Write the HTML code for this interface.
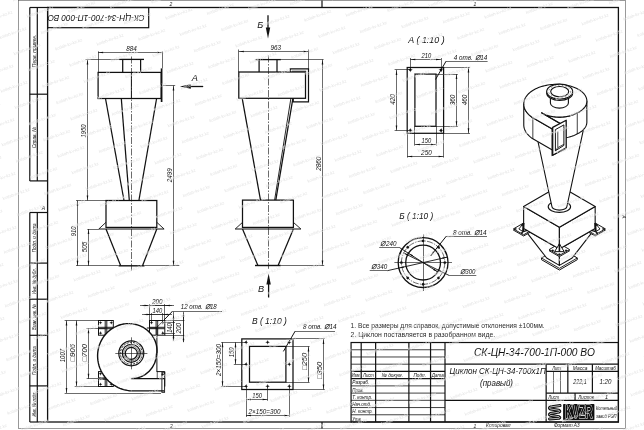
<!DOCTYPE html>
<html lang="ru"><head><meta charset="utf-8"><title>СК-ЦН-34-700-1П-000 ВО</title>
<style>
html,body{margin:0;padding:0;background:#fff;}
body{width:644px;height:430px;overflow:hidden;}
svg{display:block;will-change:transform;font-family:'Liberation Sans', sans-serif;}
</style></head><body>
<svg width="644" height="430" viewBox="0 0 644 430" stroke="#111" fill="none" font-family='"Liberation Sans", sans-serif'>
<rect x="0" y="0" width="644" height="430" fill="#fff" stroke="none"/>
<g>
<rect x="18.60" y="0.60" width="607.10" height="427.90" stroke-width="0.6" fill="none" stroke="#555"/>
<rect x="47.60" y="7.50" width="570.80" height="414.50" stroke-width="1.3" fill="none" />
<line x1="29.80" y1="7.50" x2="29.80" y2="180.90" stroke-width="1.2" />
<line x1="29.80" y1="212.50" x2="29.80" y2="422.00" stroke-width="1.2" />
<line x1="37.30" y1="7.50" x2="37.30" y2="180.90" stroke-width="1.2" />
<line x1="37.30" y1="212.50" x2="37.30" y2="422.00" stroke-width="1.2" />
<line x1="29.80" y1="7.50" x2="47.60" y2="7.50" stroke-width="1.2" />
<line x1="29.80" y1="94.20" x2="47.60" y2="94.20" stroke-width="1.2" />
<line x1="29.80" y1="180.90" x2="47.60" y2="180.90" stroke-width="1.2" />
<line x1="29.80" y1="212.50" x2="47.60" y2="212.50" stroke-width="1.2" />
<line x1="29.80" y1="263.10" x2="47.60" y2="263.10" stroke-width="1.2" />
<line x1="29.80" y1="299.20" x2="47.60" y2="299.20" stroke-width="1.2" />
<line x1="29.80" y1="335.30" x2="47.60" y2="335.30" stroke-width="1.2" />
<line x1="29.80" y1="385.90" x2="47.60" y2="385.90" stroke-width="1.2" />
<line x1="29.80" y1="422.00" x2="47.60" y2="422.00" stroke-width="1.2" />
<text x="35.90" y="50.80" font-size="5.6" font-style="italic" text-anchor="middle" fill="#111" stroke="none" textLength="32.7" lengthAdjust="spacingAndGlyphs" transform="rotate(-90 35.90 50.80)" >Перв. примен.</text>
<text x="35.90" y="137.50" font-size="5.6" font-style="italic" text-anchor="middle" fill="#111" stroke="none" textLength="21.5" lengthAdjust="spacingAndGlyphs" transform="rotate(-90 35.90 137.50)" >Справ. №</text>
<text x="35.90" y="237.80" font-size="5.6" font-style="italic" text-anchor="middle" fill="#111" stroke="none" textLength="29.0" lengthAdjust="spacingAndGlyphs" transform="rotate(-90 35.90 237.80)" >Подп. и дата</text>
<text x="35.90" y="281.10" font-size="5.6" font-style="italic" text-anchor="middle" fill="#111" stroke="none" textLength="26.0" lengthAdjust="spacingAndGlyphs" transform="rotate(-90 35.90 281.10)" >Инв. № дубл.</text>
<text x="35.90" y="317.20" font-size="5.6" font-style="italic" text-anchor="middle" fill="#111" stroke="none" textLength="26.0" lengthAdjust="spacingAndGlyphs" transform="rotate(-90 35.90 317.20)" >Взам. инв. №</text>
<text x="35.90" y="360.60" font-size="5.6" font-style="italic" text-anchor="middle" fill="#111" stroke="none" textLength="29.0" lengthAdjust="spacingAndGlyphs" transform="rotate(-90 35.90 360.60)" >Подп. и дата</text>
<text x="35.90" y="404.00" font-size="5.6" font-style="italic" text-anchor="middle" fill="#111" stroke="none" textLength="25.0" lengthAdjust="spacingAndGlyphs" transform="rotate(-90 35.90 404.00)" >Инв. № подл.</text>
<rect x="47.60" y="7.50" width="101.10" height="20.20" stroke-width="1.2" fill="none" />
<text x="96.10" y="14.80" font-size="9.4" font-style="italic" text-anchor="middle" fill="#111" stroke="none" textLength="97.0" lengthAdjust="spacingAndGlyphs" transform="rotate(180 96.10 14.80)" >СК-ЦН-34-700-1П-000 ВО</text>
<line x1="322.00" y1="0.60" x2="322.00" y2="7.50" stroke-width="1.2" />
<line x1="322.00" y1="422.00" x2="322.00" y2="428.50" stroke-width="1.2" />
<text x="171.00" y="5.60" font-size="5" font-style="italic" text-anchor="middle" fill="#111" stroke="none" >2</text>
<text x="475.00" y="5.60" font-size="5" font-style="italic" text-anchor="middle" fill="#111" stroke="none" >1</text>
<text x="171.50" y="427.60" font-size="5" font-style="italic" text-anchor="middle" fill="#111" stroke="none" >2</text>
<text x="475.00" y="427.60" font-size="5" font-style="italic" text-anchor="middle" fill="#111" stroke="none" >1</text>
<text x="43.50" y="209.60" font-size="5" font-style="italic" text-anchor="middle" fill="#111" stroke="none" >A</text>
<text x="622.00" y="217.00" font-size="5" font-style="italic" text-anchor="middle" fill="#111" stroke="none" transform="rotate(90 622.00 217.00)" >A</text>
<line x1="131.50" y1="56.50" x2="131.50" y2="270.80" stroke-width="0.62" stroke-dasharray="7 1.5 1.5 1.5"/>
<line x1="119.20" y1="59.40" x2="144.00" y2="59.40" stroke-width="1.3" />
<line x1="122.70" y1="59.40" x2="122.70" y2="72.40" stroke-width="1.25" />
<line x1="140.60" y1="59.40" x2="140.60" y2="72.40" stroke-width="1.25" />
<rect x="98.10" y="72.40" width="63.10" height="26.10" stroke-width="1.25" fill="none" />
<line x1="131.40" y1="72.40" x2="131.40" y2="98.50" stroke-width="0.9" />
<line x1="161.60" y1="68.40" x2="161.60" y2="102.00" stroke-width="1.7" />
<line x1="105.50" y1="98.50" x2="124.00" y2="200.50" stroke-width="1.25" />
<line x1="156.60" y1="98.50" x2="138.90" y2="200.50" stroke-width="1.25" />
<line x1="121.30" y1="98.50" x2="129.30" y2="200.50" stroke-width="1.25" />
<rect x="106.00" y="200.50" width="50.80" height="26.90" stroke-width="1.25" fill="none" />
<line x1="98.80" y1="229.00" x2="164.10" y2="229.00" stroke-width="1.2" />
<line x1="106.00" y1="222.30" x2="98.80" y2="229.00" stroke-width="0.9" />
<line x1="156.80" y1="222.30" x2="164.10" y2="229.00" stroke-width="0.9" />
<line x1="106.00" y1="229.00" x2="120.70" y2="265.80" stroke-width="1.25" />
<line x1="156.80" y1="229.00" x2="142.50" y2="265.80" stroke-width="1.25" />
<line x1="118.60" y1="265.80" x2="144.50" y2="265.80" stroke-width="1.4" />
<line x1="98.50" y1="72.40" x2="98.50" y2="51.30" stroke-width="0.62" />
<line x1="162.50" y1="68.40" x2="162.50" y2="51.30" stroke-width="0.62" />
<line x1="98.10" y1="52.50" x2="162.40" y2="52.50" stroke-width="0.62" />
<polygon points="98.10,52.50 103.10,51.70 103.10,53.30" fill="#111" stroke="none"/>
<polygon points="162.40,52.50 157.40,53.30 157.40,51.70" fill="#111" stroke="none"/>
<text x="131.50" y="50.90" font-size="7" font-style="italic" text-anchor="middle" fill="#111" stroke="none" textLength="10.6" lengthAdjust="spacingAndGlyphs" >884</text>
<line x1="119.20" y1="59.50" x2="85.50" y2="59.50" stroke-width="0.62" />
<line x1="106.00" y1="200.50" x2="76.00" y2="200.50" stroke-width="0.62" />
<line x1="87.50" y1="59.40" x2="87.50" y2="200.50" stroke-width="0.62" />
<polygon points="87.50,59.40 88.30,64.40 86.70,64.40" fill="#111" stroke="none"/>
<polygon points="87.50,200.50 86.70,195.50 88.30,195.50" fill="#111" stroke="none"/>
<text x="85.90" y="131.00" font-size="7" font-style="italic" text-anchor="middle" fill="#111" stroke="none" textLength="13.2" lengthAdjust="spacingAndGlyphs" transform="rotate(-90 85.90 131.00)" >1950</text>
<line x1="77.50" y1="200.50" x2="77.50" y2="265.80" stroke-width="0.62" />
<polygon points="77.50,200.50 78.30,205.50 76.70,205.50" fill="#111" stroke="none"/>
<polygon points="77.50,265.80 76.70,260.80 78.30,260.80" fill="#111" stroke="none"/>
<text x="75.90" y="231.40" font-size="7" font-style="italic" text-anchor="middle" fill="#111" stroke="none" textLength="9.7" lengthAdjust="spacingAndGlyphs" transform="rotate(-90 75.90 231.40)" >910</text>
<line x1="98.80" y1="229.50" x2="87.30" y2="229.50" stroke-width="0.62" />
<line x1="118.60" y1="265.50" x2="76.00" y2="265.50" stroke-width="0.62" />
<line x1="88.50" y1="229.00" x2="88.50" y2="265.80" stroke-width="0.62" />
<polygon points="88.50,229.00 89.30,234.00 87.70,234.00" fill="#111" stroke="none"/>
<polygon points="88.50,265.80 87.70,260.80 89.30,260.80" fill="#111" stroke="none"/>
<text x="86.90" y="247.00" font-size="7" font-style="italic" text-anchor="middle" fill="#111" stroke="none" textLength="10.6" lengthAdjust="spacingAndGlyphs" transform="rotate(-90 86.90 247.00)" >505</text>
<line x1="162.40" y1="85.50" x2="175.20" y2="85.50" stroke-width="0.62" />
<line x1="144.50" y1="265.50" x2="179.30" y2="265.50" stroke-width="0.62" />
<line x1="173.50" y1="85.60" x2="173.50" y2="265.80" stroke-width="0.62" />
<polygon points="173.50,85.60 174.30,90.60 172.70,90.60" fill="#111" stroke="none"/>
<polygon points="173.50,265.80 172.70,260.80 174.30,260.80" fill="#111" stroke="none"/>
<text x="171.90" y="175.20" font-size="7" font-style="italic" text-anchor="middle" fill="#111" stroke="none" textLength="14.2" lengthAdjust="spacingAndGlyphs" transform="rotate(-90 171.90 175.20)" >2499</text>
<line x1="185.00" y1="86.50" x2="203.20" y2="86.50" stroke-width="1.3" />
<polygon points="179.80,86.50 190.80,84.30 190.80,88.70" fill="#111" stroke="none"/>
<text x="194.90" y="81.20" font-size="9.2" font-style="italic" text-anchor="middle" fill="#111" stroke="none" >А</text>
<line x1="268.50" y1="55.50" x2="268.50" y2="268.80" stroke-width="0.62" stroke-dasharray="7 1.5 1.5 1.5"/>
<line x1="255.60" y1="59.60" x2="280.90" y2="59.60" stroke-width="1.3" />
<line x1="259.10" y1="59.60" x2="259.10" y2="72.00" stroke-width="1.25" />
<line x1="277.00" y1="59.60" x2="277.00" y2="72.00" stroke-width="1.25" />
<rect x="238.80" y="72.00" width="66.70" height="26.30" stroke-width="1.25" fill="none" />
<polyline points="290.30,72.00 290.30,68.90 308.50,68.90 308.50,101.80 293.20,101.80 293.20,98.30" stroke-width="1.2" fill="none" />
<polyline points="291.80,71.20 306.20,71.20" stroke-width="0.8" fill="none" />
<line x1="242.20" y1="98.30" x2="260.50" y2="200.10" stroke-width="1.25" />
<line x1="292.90" y1="98.30" x2="275.80" y2="200.10" stroke-width="1.25" />
<line x1="290.90" y1="98.30" x2="274.60" y2="200.10" stroke-width="0.9" />
<rect x="242.50" y="200.10" width="50.90" height="27.30" stroke-width="1.25" fill="none" />
<line x1="235.20" y1="229.00" x2="300.90" y2="229.00" stroke-width="1.2" />
<line x1="242.50" y1="222.40" x2="235.20" y2="229.00" stroke-width="0.9" />
<line x1="293.40" y1="222.40" x2="300.90" y2="229.00" stroke-width="0.9" />
<line x1="242.50" y1="229.00" x2="257.90" y2="265.50" stroke-width="1.25" />
<line x1="293.40" y1="229.00" x2="278.10" y2="265.50" stroke-width="1.25" />
<line x1="255.00" y1="265.50" x2="280.70" y2="265.50" stroke-width="1.4" />
<line x1="238.50" y1="72.00" x2="238.50" y2="49.50" stroke-width="0.62" />
<line x1="308.50" y1="68.90" x2="308.50" y2="49.50" stroke-width="0.62" />
<line x1="238.80" y1="51.50" x2="308.50" y2="51.50" stroke-width="0.62" />
<polygon points="238.80,51.50 243.80,50.70 243.80,52.30" fill="#111" stroke="none"/>
<polygon points="308.50,51.50 303.50,52.30 303.50,50.70" fill="#111" stroke="none"/>
<text x="275.80" y="49.90" font-size="7" font-style="italic" text-anchor="middle" fill="#111" stroke="none" textLength="10.6" lengthAdjust="spacingAndGlyphs" >963</text>
<line x1="280.90" y1="59.50" x2="323.60" y2="59.50" stroke-width="0.62" />
<line x1="280.70" y1="265.50" x2="324.20" y2="265.50" stroke-width="0.62" />
<line x1="322.50" y1="59.60" x2="322.50" y2="265.50" stroke-width="0.62" />
<polygon points="322.50,59.60 323.30,64.60 321.70,64.60" fill="#111" stroke="none"/>
<polygon points="322.50,265.50 321.70,260.50 323.30,260.50" fill="#111" stroke="none"/>
<text x="320.90" y="163.70" font-size="7" font-style="italic" text-anchor="middle" fill="#111" stroke="none" textLength="14.2" lengthAdjust="spacingAndGlyphs" transform="rotate(-90 320.90 163.70)" >2860</text>
<line x1="268.00" y1="15.20" x2="268.00" y2="33.00" stroke-width="1.3" />
<polygon points="268.00,38.40 265.80,27.40 270.20,27.40" fill="#111" stroke="none"/>
<text x="260.30" y="28.40" font-size="9.2" font-style="italic" text-anchor="middle" fill="#111" stroke="none" >Б</text>
<line x1="268.60" y1="279.00" x2="268.60" y2="297.50" stroke-width="1.3" />
<polygon points="268.60,273.60 270.80,284.60 266.40,284.60" fill="#111" stroke="none"/>
<text x="261.10" y="291.50" font-size="9.2" font-style="italic" text-anchor="middle" fill="#111" stroke="none" >В</text>
<text x="426.40" y="42.80" font-size="8.6" font-style="italic" text-anchor="middle" fill="#111" stroke="none" textLength="36.5" lengthAdjust="spacingAndGlyphs" >А ( 1:10 )</text>
<rect x="407.20" y="67.50" width="36.40" height="65.80" stroke-width="1.25" fill="none" />
<rect x="414.90" y="74.10" width="21.10" height="52.20" stroke-width="1.25" fill="none" />
<circle cx="410.30" cy="69.90" r="1.15" stroke-width="0.3" fill="#111" />
<line x1="408.10" y1="69.50" x2="412.50" y2="69.50" stroke-width="0.4" />
<line x1="410.50" y1="67.70" x2="410.50" y2="72.10" stroke-width="0.4" />
<circle cx="410.30" cy="130.50" r="1.15" stroke-width="0.3" fill="#111" />
<line x1="408.10" y1="130.50" x2="412.50" y2="130.50" stroke-width="0.4" />
<line x1="410.50" y1="128.30" x2="410.50" y2="132.70" stroke-width="0.4" />
<circle cx="441.00" cy="69.90" r="1.15" stroke-width="0.3" fill="#111" />
<line x1="438.80" y1="69.50" x2="443.20" y2="69.50" stroke-width="0.4" />
<line x1="441.50" y1="67.70" x2="441.50" y2="72.10" stroke-width="0.4" />
<circle cx="441.00" cy="130.50" r="1.15" stroke-width="0.3" fill="#111" />
<line x1="438.80" y1="130.50" x2="443.20" y2="130.50" stroke-width="0.4" />
<line x1="441.50" y1="128.30" x2="441.50" y2="132.70" stroke-width="0.4" />
<line x1="410.50" y1="69.90" x2="410.50" y2="58.00" stroke-width="0.62" />
<line x1="441.50" y1="69.90" x2="441.50" y2="58.00" stroke-width="0.62" />
<line x1="410.30" y1="59.50" x2="441.00" y2="59.50" stroke-width="0.62" />
<polygon points="410.30,59.50 415.30,58.70 415.30,60.30" fill="#111" stroke="none"/>
<polygon points="441.00,59.50 436.00,60.30 436.00,58.70" fill="#111" stroke="none"/>
<text x="426.40" y="57.90" font-size="7" font-style="italic" text-anchor="middle" fill="#111" stroke="none" textLength="9.7" lengthAdjust="spacingAndGlyphs" >210</text>
<line x1="435.50" y1="79.50" x2="445.90" y2="61.50" stroke-width="1.0" />
<line x1="445.50" y1="61.50" x2="487.60" y2="61.50" stroke-width="0.62" />
<text x="453.70" y="60.30" font-size="6.8" font-style="italic" text-anchor="start" fill="#111" stroke="none" textLength="33.5" lengthAdjust="spacingAndGlyphs" >4 отв. <tspan font-size="9.7">⌀</tspan>14</text>
<line x1="410.30" y1="69.50" x2="394.60" y2="69.50" stroke-width="0.62" />
<line x1="410.30" y1="130.50" x2="394.60" y2="130.50" stroke-width="0.62" />
<line x1="396.50" y1="69.90" x2="396.50" y2="130.50" stroke-width="0.62" />
<polygon points="396.50,69.90 397.30,74.90 395.70,74.90" fill="#111" stroke="none"/>
<polygon points="396.50,130.50 395.70,125.50 397.30,125.50" fill="#111" stroke="none"/>
<text x="394.90" y="99.50" font-size="7" font-style="italic" text-anchor="middle" fill="#111" stroke="none" textLength="10.6" lengthAdjust="spacingAndGlyphs" transform="rotate(-90 394.90 99.50)" >420</text>
<line x1="436.00" y1="74.50" x2="457.80" y2="74.50" stroke-width="0.62" />
<line x1="436.00" y1="126.50" x2="457.80" y2="126.50" stroke-width="0.62" />
<line x1="456.50" y1="74.10" x2="456.50" y2="126.30" stroke-width="0.62" />
<polygon points="456.50,74.10 457.30,79.10 455.70,79.10" fill="#111" stroke="none"/>
<polygon points="456.50,126.30 455.70,121.30 457.30,121.30" fill="#111" stroke="none"/>
<text x="454.90" y="100.00" font-size="7" font-style="italic" text-anchor="middle" fill="#111" stroke="none" textLength="10.6" lengthAdjust="spacingAndGlyphs" transform="rotate(-90 454.90 100.00)" >360</text>
<line x1="443.60" y1="67.50" x2="470.00" y2="67.50" stroke-width="0.62" />
<line x1="443.60" y1="133.50" x2="470.00" y2="133.50" stroke-width="0.62" />
<line x1="468.50" y1="67.50" x2="468.50" y2="133.30" stroke-width="0.62" />
<polygon points="468.50,67.50 469.30,72.50 467.70,72.50" fill="#111" stroke="none"/>
<polygon points="468.50,133.30 467.70,128.30 469.30,128.30" fill="#111" stroke="none"/>
<text x="466.90" y="100.00" font-size="7" font-style="italic" text-anchor="middle" fill="#111" stroke="none" textLength="10.6" lengthAdjust="spacingAndGlyphs" transform="rotate(-90 466.90 100.00)" >460</text>
<line x1="414.50" y1="126.30" x2="414.50" y2="145.60" stroke-width="0.62" />
<line x1="436.50" y1="126.30" x2="436.50" y2="145.60" stroke-width="0.62" />
<line x1="414.90" y1="144.50" x2="436.00" y2="144.50" stroke-width="0.62" />
<polygon points="414.90,144.50 419.90,143.70 419.90,145.30" fill="#111" stroke="none"/>
<polygon points="436.00,144.50 431.00,145.30 431.00,143.70" fill="#111" stroke="none"/>
<text x="426.40" y="142.90" font-size="7" font-style="italic" text-anchor="middle" fill="#111" stroke="none" textLength="9.7" lengthAdjust="spacingAndGlyphs" >150</text>
<line x1="407.50" y1="133.30" x2="407.50" y2="157.60" stroke-width="0.62" />
<line x1="443.50" y1="133.30" x2="443.50" y2="157.60" stroke-width="0.62" />
<line x1="407.20" y1="156.50" x2="443.60" y2="156.50" stroke-width="0.62" />
<polygon points="407.20,156.50 412.20,155.70 412.20,157.30" fill="#111" stroke="none"/>
<polygon points="443.60,156.50 438.60,157.30 438.60,155.70" fill="#111" stroke="none"/>
<text x="426.40" y="154.90" font-size="7" font-style="italic" text-anchor="middle" fill="#111" stroke="none" textLength="10.6" lengthAdjust="spacingAndGlyphs" >250</text>
<text x="416.30" y="219.20" font-size="8.6" font-style="italic" text-anchor="middle" fill="#111" stroke="none" textLength="34.0" lengthAdjust="spacingAndGlyphs" >Б ( 1:10 )</text>
<circle cx="423.10" cy="262.60" r="24.90" stroke-width="1.3" fill="none" />
<circle cx="423.10" cy="262.60" r="17.40" stroke-width="1.3" fill="none" />
<circle cx="423.10" cy="262.60" r="21.70" stroke-width="0.62" fill="none" stroke-dasharray="6 1.2 1.2 1.2"/>
<line x1="394.40" y1="262.50" x2="452.00" y2="262.50" stroke-width="0.62" />
<line x1="423.50" y1="234.30" x2="423.50" y2="291.00" stroke-width="0.62" />
<circle cx="423.10" cy="240.90" r="1.20" stroke-width="0.3" fill="#111" />
<circle cx="407.76" cy="247.26" r="1.20" stroke-width="0.3" fill="#111" />
<circle cx="401.40" cy="262.60" r="1.20" stroke-width="0.3" fill="#111" />
<circle cx="407.76" cy="277.94" r="1.20" stroke-width="0.3" fill="#111" />
<circle cx="423.10" cy="284.30" r="1.20" stroke-width="0.3" fill="#111" />
<circle cx="438.44" cy="277.94" r="1.20" stroke-width="0.3" fill="#111" />
<circle cx="444.80" cy="262.60" r="1.20" stroke-width="0.3" fill="#111" />
<circle cx="438.44" cy="247.26" r="1.20" stroke-width="0.3" fill="#111" />
<line x1="379.20" y1="247.50" x2="399.40" y2="247.50" stroke-width="0.62" />
<line x1="399.40" y1="247.50" x2="437.77" y2="271.95" stroke-width="0.9" />
<polygon points="437.77,271.95 433.13,269.94 433.99,268.59" fill="#111" stroke="none"/>
<polygon points="408.43,253.25 413.07,255.26 412.21,256.61" fill="#111" stroke="none"/>
<text x="380.40" y="245.70" font-size="6.8" font-style="italic" text-anchor="start" fill="#111" stroke="none" textLength="16.0" lengthAdjust="spacingAndGlyphs" ><tspan font-size="9.7">⌀</tspan>240</text>
<line x1="369.70" y1="270.50" x2="387.30" y2="270.50" stroke-width="0.62" />
<line x1="387.30" y1="270.70" x2="447.39" y2="257.11" stroke-width="0.9" />
<polygon points="447.39,257.11 442.69,258.99 442.33,257.43" fill="#111" stroke="none"/>
<polygon points="398.81,268.09 403.51,266.21 403.87,267.77" fill="#111" stroke="none"/>
<text x="371.20" y="268.90" font-size="6.8" font-style="italic" text-anchor="start" fill="#111" stroke="none" textLength="16.0" lengthAdjust="spacingAndGlyphs" ><tspan font-size="9.7">⌀</tspan>340</text>
<line x1="476.30" y1="275.50" x2="449.00" y2="275.50" stroke-width="0.62" />
<line x1="449.00" y1="275.40" x2="403.65" y2="252.99" stroke-width="0.9" />
<polygon points="403.65,252.99 408.48,254.48 407.77,255.92" fill="#111" stroke="none"/>
<polygon points="442.55,272.21 437.72,270.72 438.43,269.28" fill="#111" stroke="none"/>
<text x="460.00" y="273.60" font-size="6.8" font-style="italic" text-anchor="start" fill="#111" stroke="none" textLength="15.5" lengthAdjust="spacingAndGlyphs" ><tspan font-size="9.7">⌀</tspan>300</text>
<line x1="445.50" y1="236.50" x2="487.00" y2="236.50" stroke-width="0.62" />
<line x1="445.90" y1="236.70" x2="430.50" y2="256.00" stroke-width="1.0" />
<polygon points="430.50,256.00 432.99,251.59 434.24,252.59" fill="#111" stroke="none"/>
<text x="453.00" y="234.60" font-size="6.8" font-style="italic" text-anchor="start" fill="#111" stroke="none" textLength="33.4" lengthAdjust="spacingAndGlyphs" >8 отв. <tspan font-size="9.7">⌀</tspan>14</text>
<text x="269.40" y="324.20" font-size="8.6" font-style="italic" text-anchor="middle" fill="#111" stroke="none" textLength="35.0" lengthAdjust="spacingAndGlyphs" >В ( 1:10 )</text>
<rect x="241.80" y="338.90" width="51.20" height="50.60" stroke-width="1.25" fill="none" />
<rect x="249.50" y="346.40" width="36.40" height="35.80" stroke-width="1.25" fill="none" />
<circle cx="246.00" cy="342.30" r="0.95" stroke-width="0.3" fill="#111" />
<line x1="244.00" y1="342.50" x2="248.00" y2="342.50" stroke-width="0.4" />
<line x1="246.50" y1="340.30" x2="246.50" y2="344.30" stroke-width="0.4" />
<circle cx="246.00" cy="364.20" r="0.95" stroke-width="0.3" fill="#111" />
<line x1="244.00" y1="364.50" x2="248.00" y2="364.50" stroke-width="0.4" />
<line x1="246.50" y1="362.20" x2="246.50" y2="366.20" stroke-width="0.4" />
<circle cx="246.00" cy="386.20" r="0.95" stroke-width="0.3" fill="#111" />
<line x1="244.00" y1="386.50" x2="248.00" y2="386.50" stroke-width="0.4" />
<line x1="246.50" y1="384.20" x2="246.50" y2="388.20" stroke-width="0.4" />
<circle cx="267.60" cy="342.30" r="0.95" stroke-width="0.3" fill="#111" />
<line x1="265.60" y1="342.50" x2="269.60" y2="342.50" stroke-width="0.4" />
<line x1="267.50" y1="340.30" x2="267.50" y2="344.30" stroke-width="0.4" />
<circle cx="267.60" cy="386.20" r="0.95" stroke-width="0.3" fill="#111" />
<line x1="265.60" y1="386.50" x2="269.60" y2="386.50" stroke-width="0.4" />
<line x1="267.50" y1="384.20" x2="267.50" y2="388.20" stroke-width="0.4" />
<circle cx="289.30" cy="342.30" r="0.95" stroke-width="0.3" fill="#111" />
<line x1="287.30" y1="342.50" x2="291.30" y2="342.50" stroke-width="0.4" />
<line x1="289.50" y1="340.30" x2="289.50" y2="344.30" stroke-width="0.4" />
<circle cx="289.30" cy="364.20" r="0.95" stroke-width="0.3" fill="#111" />
<line x1="287.30" y1="364.50" x2="291.30" y2="364.50" stroke-width="0.4" />
<line x1="289.50" y1="362.20" x2="289.50" y2="366.20" stroke-width="0.4" />
<circle cx="289.30" cy="386.20" r="0.95" stroke-width="0.3" fill="#111" />
<line x1="287.30" y1="386.50" x2="291.30" y2="386.50" stroke-width="0.4" />
<line x1="289.50" y1="384.20" x2="289.50" y2="388.20" stroke-width="0.4" />
<line x1="283.40" y1="351.40" x2="295.00" y2="331.40" stroke-width="1.0" />
<line x1="294.60" y1="331.50" x2="335.00" y2="331.50" stroke-width="0.62" />
<text x="303.00" y="329.40" font-size="6.8" font-style="italic" text-anchor="start" fill="#111" stroke="none" textLength="33.4" lengthAdjust="spacingAndGlyphs" >8 отв. <tspan font-size="9.7">⌀</tspan>14</text>
<line x1="246.00" y1="342.50" x2="221.20" y2="342.50" stroke-width="0.62" />
<line x1="246.00" y1="386.50" x2="221.20" y2="386.50" stroke-width="0.62" />
<line x1="246.00" y1="364.50" x2="233.80" y2="364.50" stroke-width="0.62" />
<line x1="222.50" y1="342.30" x2="222.50" y2="386.20" stroke-width="0.62" />
<polygon points="222.50,342.30 223.30,347.30 221.70,347.30" fill="#111" stroke="none"/>
<polygon points="222.50,386.20 221.70,381.20 223.30,381.20" fill="#111" stroke="none"/>
<text x="220.90" y="360.00" font-size="7" font-style="italic" text-anchor="middle" fill="#111" stroke="none" textLength="31.9" lengthAdjust="spacingAndGlyphs" transform="rotate(-90 220.90 360.00)" >2×150=300</text>
<line x1="235.50" y1="342.30" x2="235.50" y2="364.20" stroke-width="0.62" />
<polygon points="235.50,342.30 236.30,347.30 234.70,347.30" fill="#111" stroke="none"/>
<polygon points="235.50,364.20 234.70,359.20 236.30,359.20" fill="#111" stroke="none"/>
<text x="233.90" y="352.40" font-size="7" font-style="italic" text-anchor="middle" fill="#111" stroke="none" textLength="9.7" lengthAdjust="spacingAndGlyphs" transform="rotate(-90 233.90 352.40)" >150</text>
<line x1="285.90" y1="346.50" x2="309.60" y2="346.50" stroke-width="0.62" />
<line x1="285.90" y1="382.50" x2="309.60" y2="382.50" stroke-width="0.62" />
<line x1="308.50" y1="346.40" x2="308.50" y2="382.20" stroke-width="0.62" />
<polygon points="308.50,346.40 309.30,351.40 307.70,351.40" fill="#111" stroke="none"/>
<polygon points="308.50,382.20 307.70,377.20 309.30,377.20" fill="#111" stroke="none"/>
<text x="306.90" y="361.50" font-size="7" font-style="italic" text-anchor="middle" fill="#111" stroke="none" textLength="17.2" lengthAdjust="spacingAndGlyphs" transform="rotate(-90 306.90 361.50)" >□250</text>
<line x1="293.00" y1="338.50" x2="324.80" y2="338.50" stroke-width="0.62" />
<line x1="293.00" y1="389.50" x2="324.80" y2="389.50" stroke-width="0.62" />
<line x1="323.50" y1="338.90" x2="323.50" y2="389.50" stroke-width="0.62" />
<polygon points="323.50,338.90 324.30,343.90 322.70,343.90" fill="#111" stroke="none"/>
<polygon points="323.50,389.50 322.70,384.50 324.30,384.50" fill="#111" stroke="none"/>
<text x="321.90" y="370.50" font-size="7" font-style="italic" text-anchor="middle" fill="#111" stroke="none" textLength="17.2" lengthAdjust="spacingAndGlyphs" transform="rotate(-90 321.90 370.50)" >□350</text>
<line x1="246.50" y1="386.20" x2="246.50" y2="417.00" stroke-width="0.62" />
<line x1="267.50" y1="386.20" x2="267.50" y2="400.80" stroke-width="0.62" />
<line x1="289.50" y1="386.20" x2="289.50" y2="417.00" stroke-width="0.62" />
<line x1="246.00" y1="399.50" x2="267.60" y2="399.50" stroke-width="0.62" />
<polygon points="246.00,399.50 251.00,398.70 251.00,400.30" fill="#111" stroke="none"/>
<polygon points="267.60,399.50 262.60,400.30 262.60,398.70" fill="#111" stroke="none"/>
<text x="257.10" y="397.90" font-size="7" font-style="italic" text-anchor="middle" fill="#111" stroke="none" textLength="9.7" lengthAdjust="spacingAndGlyphs" >150</text>
<line x1="246.00" y1="415.50" x2="289.30" y2="415.50" stroke-width="0.62" />
<polygon points="246.00,415.50 251.00,414.70 251.00,416.30" fill="#111" stroke="none"/>
<polygon points="289.30,415.50 284.30,416.30 284.30,414.70" fill="#111" stroke="none"/>
<text x="264.50" y="413.90" font-size="7" font-style="italic" text-anchor="middle" fill="#111" stroke="none" textLength="31.9" lengthAdjust="spacingAndGlyphs" >2×150=300</text>
<rect x="98.50" y="320.50" width="14.80" height="14.70" stroke-width="1.0" fill="none" />
<line x1="105.20" y1="320.50" x2="105.20" y2="335.20" stroke-width="0.95" />
<line x1="106.80" y1="320.50" x2="106.80" y2="335.20" stroke-width="0.95" />
<line x1="98.50" y1="327.30" x2="113.30" y2="327.30" stroke-width="0.95" />
<line x1="98.50" y1="328.70" x2="113.30" y2="328.70" stroke-width="0.95" />
<circle cx="100.50" cy="322.70" r="0.80" stroke-width="0.3" fill="#111" />
<line x1="98.90" y1="322.50" x2="102.10" y2="322.50" stroke-width="0.4" />
<line x1="100.50" y1="321.10" x2="100.50" y2="324.30" stroke-width="0.4" />
<circle cx="111.30" cy="322.70" r="0.80" stroke-width="0.3" fill="#111" />
<line x1="109.70" y1="322.50" x2="112.90" y2="322.50" stroke-width="0.4" />
<line x1="111.50" y1="321.10" x2="111.50" y2="324.30" stroke-width="0.4" />
<circle cx="100.50" cy="333.00" r="0.80" stroke-width="0.3" fill="#111" />
<line x1="98.90" y1="333.50" x2="102.10" y2="333.50" stroke-width="0.4" />
<line x1="100.50" y1="331.40" x2="100.50" y2="334.60" stroke-width="0.4" />
<rect x="149.50" y="320.50" width="15.30" height="14.70" stroke-width="1.0" fill="none" />
<line x1="156.10" y1="320.50" x2="156.10" y2="335.20" stroke-width="0.95" />
<line x1="157.70" y1="320.50" x2="157.70" y2="335.20" stroke-width="0.95" />
<line x1="149.50" y1="327.30" x2="164.80" y2="327.30" stroke-width="0.95" />
<line x1="149.50" y1="328.70" x2="164.80" y2="328.70" stroke-width="0.95" />
<circle cx="162.80" cy="322.70" r="0.80" stroke-width="0.3" fill="#111" />
<line x1="161.20" y1="322.50" x2="164.40" y2="322.50" stroke-width="0.4" />
<line x1="162.50" y1="321.10" x2="162.50" y2="324.30" stroke-width="0.4" />
<circle cx="151.50" cy="322.70" r="0.80" stroke-width="0.3" fill="#111" />
<line x1="149.90" y1="322.50" x2="153.10" y2="322.50" stroke-width="0.4" />
<line x1="151.50" y1="321.10" x2="151.50" y2="324.30" stroke-width="0.4" />
<circle cx="162.80" cy="333.00" r="0.80" stroke-width="0.3" fill="#111" />
<line x1="161.20" y1="333.50" x2="164.40" y2="333.50" stroke-width="0.4" />
<line x1="162.50" y1="331.40" x2="162.50" y2="334.60" stroke-width="0.4" />
<rect x="98.50" y="371.60" width="14.80" height="14.90" stroke-width="1.0" fill="none" />
<line x1="105.20" y1="371.60" x2="105.20" y2="386.50" stroke-width="0.95" />
<line x1="106.80" y1="371.60" x2="106.80" y2="386.50" stroke-width="0.95" />
<line x1="98.50" y1="377.90" x2="113.30" y2="377.90" stroke-width="0.95" />
<line x1="98.50" y1="379.30" x2="113.30" y2="379.30" stroke-width="0.95" />
<circle cx="100.50" cy="384.30" r="0.80" stroke-width="0.3" fill="#111" />
<line x1="98.90" y1="384.50" x2="102.10" y2="384.50" stroke-width="0.4" />
<line x1="100.50" y1="382.70" x2="100.50" y2="385.90" stroke-width="0.4" />
<circle cx="111.30" cy="384.30" r="0.80" stroke-width="0.3" fill="#111" />
<line x1="109.70" y1="384.50" x2="112.90" y2="384.50" stroke-width="0.4" />
<line x1="111.50" y1="382.70" x2="111.50" y2="385.90" stroke-width="0.4" />
<circle cx="100.50" cy="373.80" r="0.80" stroke-width="0.3" fill="#111" />
<line x1="98.90" y1="373.50" x2="102.10" y2="373.50" stroke-width="0.4" />
<line x1="100.50" y1="372.20" x2="100.50" y2="375.40" stroke-width="0.4" />
<polyline points="157.00,371.60 164.80,371.60 164.80,386.50" stroke-width="1.0" fill="none" />
<line x1="157.00" y1="371.60" x2="157.00" y2="378.60" stroke-width="1.0" />
<circle cx="162.80" cy="374.20" r="0.80" stroke-width="0.3" fill="#111" />
<line x1="161.20" y1="374.50" x2="164.40" y2="374.50" stroke-width="0.4" />
<line x1="162.50" y1="372.60" x2="162.50" y2="375.80" stroke-width="0.4" />
<polygon points="131.30,390.90 129.34,390.72 127.40,390.43 125.48,390.04 123.59,389.56 121.74,388.97 119.93,388.30 118.16,387.53 116.44,386.67 114.77,385.73 113.17,384.71 111.62,383.60 110.14,382.42 108.73,381.17 107.39,379.86 106.13,378.47 104.94,377.03 103.84,375.54 102.82,373.99 101.89,372.40 101.05,370.77 100.29,369.10 99.63,367.40 99.06,365.68 98.58,363.93 98.20,362.17 97.91,360.40 97.72,358.62 97.62,356.84 97.61,355.07 97.70,353.30 97.88,351.55 98.15,349.82 98.51,348.11 98.96,346.43 99.49,344.78 100.11,343.16 100.80,341.59 101.58,340.07 102.43,338.59 103.36,337.17 104.35,335.80 105.41,334.49 106.53,333.25 107.72,332.07 108.96,330.96 110.24,329.92 111.58,328.95 112.96,328.06 114.38,327.25 115.83,326.51 117.32,325.86 118.83,325.28 120.36,324.79 121.91,324.39 123.47,324.06 125.03,323.83 126.61,323.67 128.18,323.60 129.74,323.61 131.30,323.70 132.84,323.87 134.37,324.13 135.87,324.46 137.34,324.87 138.79,325.35 140.20,325.91 141.57,326.54 142.91,327.23 144.19,328.00 145.43,328.82 146.62,329.71 147.76,330.65 148.84,331.64 149.86,332.69 150.82,333.78 151.71,334.92 152.54,336.10 153.31,337.31 154.00,338.56 154.62,339.83 155.18,341.13 155.66,342.45 156.07,343.79 156.41,345.14 156.67,346.50 156.86,347.87 156.98,349.23 157.02,350.60 157.00,351.95 156.90,353.30 156.60,378.60 131.30,390.90" fill="#fff" stroke="none"/>
<polyline points="131.30,390.90 129.34,390.72 127.40,390.43 125.48,390.04 123.59,389.56 121.74,388.97 119.93,388.30 118.16,387.53 116.44,386.67 114.77,385.73 113.17,384.71 111.62,383.60 110.14,382.42 108.73,381.17 107.39,379.86 106.13,378.47 104.94,377.03 103.84,375.54 102.82,373.99 101.89,372.40 101.05,370.77 100.29,369.10 99.63,367.40 99.06,365.68 98.58,363.93 98.20,362.17 97.91,360.40 97.72,358.62 97.62,356.84 97.61,355.07 97.70,353.30 97.88,351.55 98.15,349.82 98.51,348.11 98.96,346.43 99.49,344.78 100.11,343.16 100.80,341.59 101.58,340.07 102.43,338.59 103.36,337.17 104.35,335.80 105.41,334.49 106.53,333.25 107.72,332.07 108.96,330.96 110.24,329.92 111.58,328.95 112.96,328.06 114.38,327.25 115.83,326.51 117.32,325.86 118.83,325.28 120.36,324.79 121.91,324.39 123.47,324.06 125.03,323.83 126.61,323.67 128.18,323.60 129.74,323.61 131.30,323.70 132.84,323.87 134.37,324.13 135.87,324.46 137.34,324.87 138.79,325.35 140.20,325.91 141.57,326.54 142.91,327.23 144.19,328.00 145.43,328.82 146.62,329.71 147.76,330.65 148.84,331.64 149.86,332.69 150.82,333.78 151.71,334.92 152.54,336.10 153.31,337.31 154.00,338.56 154.62,339.83 155.18,341.13 155.66,342.45 156.07,343.79 156.41,345.14 156.67,346.50 156.86,347.87 156.98,349.23 157.02,350.60 157.00,351.95 156.90,353.30" stroke-width="1.4" fill="none" />
<path d="M156.60,353.30 A25.3,25.3 0 0 1 131.30,378.60" stroke-width="1.4" fill="none" />
<rect x="131.30" y="378.60" width="31.90" height="12.30" fill="#fff" stroke="none"/>
<line x1="131.30" y1="378.60" x2="164.00" y2="378.60" stroke-width="1.25" />
<line x1="131.30" y1="390.90" x2="164.00" y2="390.90" stroke-width="1.25" />
<rect x="161.90" y="372.20" width="2.70" height="20.10" stroke-width="0.9" fill="none" />
<line x1="156.90" y1="328.00" x2="156.90" y2="372.00" stroke-width="1.0" />
<line x1="146.80" y1="328.00" x2="156.90" y2="328.00" stroke-width="1.0" />
<circle cx="131.30" cy="353.30" r="12.50" stroke-width="1.2" fill="none" />
<circle cx="131.30" cy="353.30" r="10.90" stroke-width="0.9" fill="none" stroke-dasharray="2.2 1.1"/>
<circle cx="131.30" cy="353.30" r="9.00" stroke-width="1.2" fill="none" />
<circle cx="131.30" cy="353.30" r="7.50" stroke-width="0.5" fill="none" />
<circle cx="131.30" cy="353.30" r="6.00" stroke-width="1.2" fill="none" />
<line x1="115.30" y1="353.50" x2="147.40" y2="353.50" stroke-width="0.62" />
<line x1="131.50" y1="337.30" x2="131.50" y2="369.30" stroke-width="0.62" />
<line x1="98.50" y1="320.50" x2="64.60" y2="320.50" stroke-width="0.62" />
<line x1="161.00" y1="393.50" x2="64.60" y2="393.50" stroke-width="0.62" />
<line x1="66.50" y1="320.50" x2="66.50" y2="393.00" stroke-width="0.62" />
<polygon points="66.50,320.50 67.30,325.50 65.70,325.50" fill="#111" stroke="none"/>
<polygon points="66.50,393.00 65.70,388.00 67.30,388.00" fill="#111" stroke="none"/>
<text x="64.90" y="355.60" font-size="7" font-style="italic" text-anchor="middle" fill="#111" stroke="none" textLength="13.2" lengthAdjust="spacingAndGlyphs" transform="rotate(-90 64.90 355.60)" >1007</text>
<line x1="98.50" y1="386.50" x2="74.70" y2="386.50" stroke-width="0.62" />
<line x1="76.50" y1="320.50" x2="76.50" y2="386.40" stroke-width="0.62" />
<polygon points="76.50,320.50 77.30,325.50 75.70,325.50" fill="#111" stroke="none"/>
<polygon points="76.50,386.40 75.70,381.40 77.30,381.40" fill="#111" stroke="none"/>
<text x="74.90" y="352.70" font-size="7" font-style="italic" text-anchor="middle" fill="#111" stroke="none" textLength="17.2" lengthAdjust="spacingAndGlyphs" transform="rotate(-90 74.90 352.70)" >□906</text>
<line x1="105.00" y1="328.50" x2="86.60" y2="328.50" stroke-width="0.62" />
<line x1="105.00" y1="378.50" x2="86.60" y2="378.50" stroke-width="0.62" />
<line x1="88.50" y1="328.30" x2="88.50" y2="378.80" stroke-width="0.62" />
<polygon points="88.50,328.30 89.30,333.30 87.70,333.30" fill="#111" stroke="none"/>
<polygon points="88.50,378.80 87.70,373.80 89.30,373.80" fill="#111" stroke="none"/>
<text x="86.90" y="352.70" font-size="7" font-style="italic" text-anchor="middle" fill="#111" stroke="none" textLength="17.2" lengthAdjust="spacingAndGlyphs" transform="rotate(-90 86.90 352.70)" >□700</text>
<line x1="149.50" y1="320.50" x2="149.50" y2="304.00" stroke-width="0.62" />
<line x1="164.50" y1="320.50" x2="164.50" y2="304.00" stroke-width="0.62" />
<line x1="142.50" y1="305.50" x2="171.80" y2="305.50" stroke-width="0.62" />
<polygon points="149.50,305.50 144.50,306.30 144.50,304.70" fill="#111" stroke="none"/>
<polygon points="164.80,305.50 169.80,304.70 169.80,306.30" fill="#111" stroke="none"/>
<text x="157.30" y="303.90" font-size="7" font-style="italic" text-anchor="middle" fill="#111" stroke="none" textLength="10.6" lengthAdjust="spacingAndGlyphs" >200</text>
<line x1="140.00" y1="305.50" x2="174.00" y2="305.50" stroke-width="0.62" />
<line x1="151.50" y1="322.70" x2="151.50" y2="313.00" stroke-width="0.62" />
<line x1="162.50" y1="322.70" x2="162.50" y2="313.00" stroke-width="0.62" />
<line x1="144.50" y1="314.50" x2="169.80" y2="314.50" stroke-width="0.62" />
<polygon points="151.50,314.50 146.50,315.30 146.50,313.70" fill="#111" stroke="none"/>
<polygon points="162.80,314.50 167.80,313.70 167.80,315.30" fill="#111" stroke="none"/>
<text x="157.30" y="312.80" font-size="7" font-style="italic" text-anchor="middle" fill="#111" stroke="none" textLength="9.7" lengthAdjust="spacingAndGlyphs" >140</text>
<line x1="142.00" y1="314.50" x2="172.00" y2="314.50" stroke-width="0.62" />
<line x1="157.30" y1="326.90" x2="171.90" y2="311.90" stroke-width="1.0" />
<line x1="171.50" y1="311.50" x2="222.00" y2="311.50" stroke-width="0.62" />
<text x="180.80" y="309.40" font-size="6.8" font-style="italic" text-anchor="start" fill="#111" stroke="none" textLength="36.0" lengthAdjust="spacingAndGlyphs" >12 отв. <tspan font-size="9.7">⌀</tspan>18</text>
<line x1="164.80" y1="320.50" x2="184.40" y2="320.50" stroke-width="0.62" />
<line x1="164.80" y1="335.50" x2="184.40" y2="335.50" stroke-width="0.62" />
<line x1="162.80" y1="322.50" x2="175.00" y2="322.50" stroke-width="0.62" />
<line x1="162.80" y1="333.50" x2="175.00" y2="333.50" stroke-width="0.62" />
<line x1="173.50" y1="315.70" x2="173.50" y2="340.20" stroke-width="0.62" />
<polygon points="173.50,322.70 172.70,317.70 174.30,317.70" fill="#111" stroke="none"/>
<polygon points="173.50,333.20 174.30,338.20 172.70,338.20" fill="#111" stroke="none"/>
<text x="172.00" y="328.00" font-size="7" font-style="italic" text-anchor="middle" fill="#111" stroke="none" textLength="9.7" lengthAdjust="spacingAndGlyphs" transform="rotate(-90 172.00 328.00)" >140</text>
<line x1="183.50" y1="313.50" x2="183.50" y2="342.20" stroke-width="0.62" />
<polygon points="183.50,320.50 182.70,315.50 184.30,315.50" fill="#111" stroke="none"/>
<polygon points="183.50,335.20 184.30,340.20 182.70,340.20" fill="#111" stroke="none"/>
<text x="181.40" y="328.30" font-size="7" font-style="italic" text-anchor="middle" fill="#111" stroke="none" textLength="10.6" lengthAdjust="spacingAndGlyphs" transform="rotate(-90 181.40 328.30)" >200</text>
<line x1="173.50" y1="311.80" x2="173.50" y2="341.00" stroke-width="0.62" />
<line x1="183.50" y1="311.80" x2="183.50" y2="342.00" stroke-width="0.62" />
<polygon points="541.51,258.00 541.51,259.70 559.40,270.02 577.28,259.70 577.28,258.00 559.40,247.68" stroke-width="1.0" fill="#fff" stroke-linejoin="round"/>
<polygon points="559.40,247.68 541.51,258.00 559.40,268.32 577.28,258.00" stroke-width="0.9" fill="#fff" stroke-linejoin="round"/>
<polygon points="523.63,228.40 559.40,249.05 559.40,265.38 546.62,258.00" stroke-width="1.1" fill="#fff" stroke-linejoin="round"/>
<polygon points="559.40,249.05 595.17,228.40 572.17,258.00 559.40,265.38" stroke-width="1.1" fill="#fff" stroke-linejoin="round"/>
<polygon points="523.63,224.20 513.41,230.10 523.63,236.00 533.85,230.10" stroke-width="0.95" fill="#fff" stroke-linejoin="round"/>
<polygon points="523.63,223.00 513.41,228.90 523.63,234.80 533.85,228.90" stroke-width="0.95" fill="#fff" stroke-linejoin="round"/>
<polygon points="595.17,224.20 584.95,230.10 595.17,236.00 605.39,230.10" stroke-width="0.95" fill="#fff" stroke-linejoin="round"/>
<polygon points="595.17,223.00 584.95,228.90 595.17,234.80 605.39,228.90" stroke-width="0.95" fill="#fff" stroke-linejoin="round"/>
<polygon points="559.40,244.85 549.18,250.75 559.40,256.65 569.62,250.75" stroke-width="0.95" fill="#fff" stroke-linejoin="round"/>
<polygon points="559.40,243.65 549.18,249.55 559.40,255.45 569.62,249.55" stroke-width="0.95" fill="#fff" stroke-linejoin="round"/>
<polygon points="523.63,206.50 559.40,227.15 559.40,249.05 523.63,228.40" stroke-width="1.1" fill="#fff" stroke-linejoin="round"/>
<polygon points="559.40,227.15 595.17,206.50 595.17,228.40 559.40,249.05" stroke-width="1.1" fill="#fff" stroke-linejoin="round"/>
<polygon points="523.63,206.50 559.40,227.15 595.17,206.50 559.40,185.85" stroke-width="1.1" fill="#fff" stroke-linejoin="round"/>
<polygon points="559.40,243.85 554.60,251.65 564.20,251.65" stroke-width="1.0" fill="#fff" stroke-linejoin="round"/>
<line x1="559.40" y1="243.85" x2="559.40" y2="251.65" stroke-width="1.6" />
<polygon points="523.63,223.00 518.83,229.00 523.03,231.60" stroke-width="0.9" fill="#fff" stroke-linejoin="round"/>
<line x1="523.53" y1="223.00" x2="523.13" y2="231.80" stroke-width="1.9" />
<line x1="523.23" y1="231.60" x2="527.23" y2="230.40" stroke-width="1.2" />
<polygon points="595.17,223.00 599.97,229.00 595.77,231.60" stroke-width="0.9" fill="#fff" stroke-linejoin="round"/>
<line x1="595.27" y1="223.00" x2="595.67" y2="231.80" stroke-width="1.9" />
<line x1="595.57" y1="231.60" x2="591.57" y2="230.40" stroke-width="1.2" />
<ellipse cx="515.45" cy="228.90" rx="1.00" ry="0.65" stroke-width="0.4" fill="#111" />
<ellipse cx="522.10" cy="225.06" rx="1.00" ry="0.65" stroke-width="0.4" fill="#111" />
<ellipse cx="522.10" cy="232.74" rx="1.00" ry="0.65" stroke-width="0.4" fill="#111" />
<ellipse cx="603.35" cy="228.90" rx="1.00" ry="0.65" stroke-width="0.4" fill="#111" />
<ellipse cx="596.70" cy="232.74" rx="1.00" ry="0.65" stroke-width="0.4" fill="#111" />
<ellipse cx="596.70" cy="225.06" rx="1.00" ry="0.65" stroke-width="0.4" fill="#111" />
<ellipse cx="559.40" cy="254.27" rx="1.00" ry="0.65" stroke-width="0.4" fill="#111" />
<ellipse cx="566.04" cy="250.44" rx="1.00" ry="0.65" stroke-width="0.4" fill="#111" />
<ellipse cx="552.76" cy="250.44" rx="1.00" ry="0.65" stroke-width="0.4" fill="#111" />
<ellipse cx="559.40" cy="206.80" rx="11.20" ry="5.60" stroke-width="1.1" fill="#fff" />
<path d="M534.10,123.50 L551.90,206.50 A7.5,3.6 0 0 0 566.90,206.50 L584.70,123.50 Z" fill="#fff" stroke-width="1.1"/>
<polygon points="586.86,101.11 586.82,101.95 586.69,102.78 586.49,103.59 586.22,104.40 585.88,105.20 585.46,105.97 584.98,106.73 584.43,107.48 583.82,108.20 583.15,108.89 582.42,109.56 581.63,110.21 580.78,110.83 579.89,111.41 578.95,111.97 577.96,112.49 576.97,113.00 575.99,113.52 574.97,114.01 573.91,114.46 572.80,114.88 571.66,115.27 570.49,115.62 569.28,115.94 568.05,116.22 566.80,116.46 565.52,116.67 564.23,116.83 562.92,116.96 561.60,117.05 560.28,117.09 558.96,117.10 557.64,117.07 556.32,116.99 555.01,116.88 553.71,116.73 552.43,116.54 551.17,116.31 549.92,116.04 548.71,115.73 547.53,115.39 546.37,115.02 545.26,114.61 544.18,114.16 543.14,113.69 542.15,113.18 542.15,134.18 543.14,134.69 544.18,135.16 545.26,135.61 546.37,136.02 547.53,136.39 548.71,136.73 549.92,137.04 551.17,137.31 552.43,137.54 553.71,137.73 555.01,137.88 556.32,137.99 557.64,138.07 558.96,138.10 560.28,138.09 561.60,138.05 562.92,137.96 564.23,137.83 565.52,137.67 566.80,137.46 568.05,137.22 569.28,136.94 570.49,136.62 571.66,136.27 572.80,135.88 573.91,135.46 574.97,135.01 575.99,134.52 576.97,134.00 577.96,133.49 578.95,132.97 579.89,132.41 580.78,131.83 581.63,131.21 582.42,130.56 583.15,129.89 583.82,129.20 584.43,128.48 584.98,127.73 585.46,126.97 585.88,126.20 586.22,125.40 586.49,124.59 586.69,123.78 586.82,122.95 586.86,122.11" stroke-width="1.1" fill="#fff" stroke-linejoin="round"/>
<line x1="577.28" y1="112.83" x2="577.28" y2="133.82" stroke-width="0.8" />
<polygon points="523.77,103.94 523.82,105.02 523.96,106.11 524.20,107.19 524.55,108.27 524.99,109.34 525.53,110.40 526.17,111.45 526.90,112.48 527.73,113.48 528.66,114.47 529.68,115.43 530.79,116.36 531.98,117.26 532.83,117.84 555.36,130.85 555.36,151.85 532.83,138.84 531.98,138.26 530.79,137.36 529.68,136.43 528.66,135.47 527.73,134.48 526.90,133.48 526.17,132.45 525.53,131.40 524.99,130.34 524.55,129.27 524.20,128.19 523.96,127.11 523.82,126.02 523.77,124.94" stroke-width="1.1" fill="#fff" stroke-linejoin="round"/>
<line x1="532.83" y1="117.84" x2="532.83" y2="138.84" stroke-width="0.8" />
<polygon points="532.83,117.84 531.58,116.96 530.41,116.05 529.33,115.11 528.34,114.14 527.45,113.15 526.65,112.13 525.94,111.10 525.34,110.05 524.83,108.98 524.42,107.91 524.11,106.83 523.90,105.75 523.79,104.66 523.78,103.58 523.87,102.50 524.05,101.43 524.34,100.37 524.71,99.33 525.18,98.30 525.74,97.29 526.39,96.31 527.12,95.35 527.94,94.41 528.84,93.51 529.81,92.64 530.86,91.80 531.98,91.00 533.17,90.24 534.42,89.51 535.72,88.83 537.09,88.19 538.50,87.60 539.96,87.05 541.46,86.55 543.00,86.10 544.57,85.70 546.17,85.35 547.79,85.04 549.43,84.79 551.09,84.59 552.75,84.44 554.42,84.34 556.09,84.29 557.75,84.30 559.40,84.35 561.04,84.46 562.66,84.61 564.25,84.81 565.82,85.06 567.36,85.35 568.86,85.69 570.32,86.07 571.74,86.50 573.11,86.96 574.44,87.47 575.70,88.01 576.91,88.58 578.07,89.19 579.16,89.83 580.18,90.50 581.14,91.20 582.03,91.92 582.84,92.67 583.59,93.43 584.26,94.21 584.86,95.01 585.37,95.82 585.82,96.65 586.18,97.48 586.47,98.31 586.68,99.15 586.81,99.99 586.86,100.83 586.84,101.67 586.74,102.50 586.57,103.32 586.32,104.13 586.00,104.93 585.61,105.72 585.15,106.48 584.62,107.23 584.03,107.96 583.38,108.66 582.67,109.34 581.90,110.00 581.07,110.62 580.19,111.22 579.27,111.79 578.30,112.32 577.28,112.83 576.32,113.35 575.32,113.85 574.27,114.31 573.18,114.75 572.05,115.15 570.88,115.51 569.69,115.84 568.46,116.13 567.22,116.39 565.95,116.60 564.66,116.78 563.36,116.92 562.04,117.02 560.72,117.08 559.40,117.10 558.08,117.08 556.76,117.02 555.44,116.92 554.14,116.78 552.85,116.60 551.58,116.39 550.34,116.13 549.11,115.84 547.92,115.51 546.75,115.15 545.62,114.75 544.53,114.31 543.48,113.85 542.48,113.35 541.51,112.83 541.51,112.83 564.05,125.83 555.36,130.85" stroke-width="1.1" fill="#fff" stroke-linejoin="round"/>
<line x1="541.51" y1="112.83" x2="564.05" y2="125.83" stroke-width="1.1" />
<polygon points="552.70,127.40 566.20,120.20 566.20,147.90 552.70,155.20" stroke-width="1.3" fill="#fff" stroke-linejoin="round"/>
<polygon points="555.40,129.60 563.90,124.90 563.90,145.40 555.40,150.80" stroke-width="1.0" fill="#fff" stroke-linejoin="round"/>
<polyline points="551.80,127.80 551.80,155.80 565.80,148.90" stroke-width="0.7" fill="none" stroke-linejoin="round"/>
<polyline points="557.80,147.60 563.90,144.30" stroke-width="0.8" fill="none" stroke-linejoin="round"/>
<polyline points="557.80,131.50 557.80,147.60 555.40,150.80" stroke-width="0.8" fill="none" stroke-linejoin="round"/>
<path d="M550.40,92.60 L550.40,103.10 A9.0,5.0 0 0 0 568.40,103.10 L568.40,92.60 Z" fill="#fff" stroke-width="1.1"/>
<ellipse cx="559.70" cy="93.00" rx="13.00" ry="7.50" stroke-width="1.1" fill="#fff" />
<ellipse cx="559.70" cy="91.60" rx="13.00" ry="7.50" stroke-width="1.1" fill="#fff" />
<ellipse cx="559.70" cy="91.60" rx="9.00" ry="5.10" stroke-width="1.1" fill="#fff" />
<ellipse cx="559.70" cy="91.60" rx="11.00" ry="6.30" stroke-width="0.5" fill="none" stroke-dasharray="1.2 2.4"/>
<text x="350.60" y="328.30" font-size="6.6" font-style="normal" text-anchor="start" fill="#2c2c2c" stroke="none" textLength="194.0" lengthAdjust="spacingAndGlyphs" >1. Все размеры для справок, допустимые отклонения ±100мм.</text>
<text x="350.60" y="336.70" font-size="6.6" font-style="normal" text-anchor="start" fill="#2c2c2c" stroke="none" textLength="144.5" lengthAdjust="spacingAndGlyphs" >2. Циклон поставляется в разобранном виде.</text>
<rect x="351.07" y="342.52" width="267.32" height="79.48" stroke-width="1.2" fill="none" />
<line x1="375.64" y1="342.52" x2="375.64" y2="422.00" stroke-width="1.2" />
<line x1="408.88" y1="342.52" x2="408.88" y2="422.00" stroke-width="1.2" />
<line x1="430.55" y1="342.52" x2="430.55" y2="422.00" stroke-width="1.2" />
<line x1="445.00" y1="342.52" x2="445.00" y2="422.00" stroke-width="1.2" />
<line x1="361.19" y1="342.52" x2="361.19" y2="378.65" stroke-width="1.2" />
<line x1="546.15" y1="364.20" x2="546.15" y2="422.00" stroke-width="1.2" />
<line x1="351.07" y1="349.75" x2="445.00" y2="349.75" stroke-width="0.8" />
<line x1="351.07" y1="356.97" x2="445.00" y2="356.97" stroke-width="0.8" />
<line x1="351.07" y1="364.20" x2="445.00" y2="364.20" stroke-width="0.8" />
<line x1="351.07" y1="371.42" x2="445.00" y2="371.42" stroke-width="1.2" />
<line x1="351.07" y1="378.65" x2="445.00" y2="378.65" stroke-width="1.2" />
<line x1="351.07" y1="385.88" x2="445.00" y2="385.88" stroke-width="0.8" />
<line x1="351.07" y1="393.10" x2="445.00" y2="393.10" stroke-width="0.8" />
<line x1="351.07" y1="400.32" x2="445.00" y2="400.32" stroke-width="0.8" />
<line x1="351.07" y1="407.55" x2="445.00" y2="407.55" stroke-width="0.8" />
<line x1="351.07" y1="414.77" x2="445.00" y2="414.77" stroke-width="0.8" />
<line x1="445.00" y1="364.20" x2="618.40" y2="364.20" stroke-width="1.2" />
<line x1="445.00" y1="400.32" x2="618.40" y2="400.32" stroke-width="1.2" />
<line x1="546.15" y1="371.42" x2="618.40" y2="371.42" stroke-width="1.2" />
<line x1="546.15" y1="393.10" x2="618.40" y2="393.10" stroke-width="1.2" />
<line x1="567.83" y1="364.20" x2="567.83" y2="393.10" stroke-width="1.2" />
<line x1="592.39" y1="364.20" x2="592.39" y2="393.10" stroke-width="1.2" />
<line x1="553.50" y1="371.42" x2="553.50" y2="393.10" stroke-width="0.6" />
<line x1="560.50" y1="371.42" x2="560.50" y2="393.10" stroke-width="0.6" />
<line x1="575.05" y1="393.10" x2="575.05" y2="400.32" stroke-width="1.2" />
<text x="356.13" y="377.15" font-size="5.6" font-style="italic" text-anchor="middle" fill="#111" stroke="none" textLength="9.3" lengthAdjust="spacingAndGlyphs" >Изм.</text>
<text x="368.41" y="377.15" font-size="5.6" font-style="italic" text-anchor="middle" fill="#111" stroke="none" textLength="10.8" lengthAdjust="spacingAndGlyphs" >Лист</text>
<text x="392.26" y="377.15" font-size="5.6" font-style="italic" text-anchor="middle" fill="#111" stroke="none" textLength="21.5" lengthAdjust="spacingAndGlyphs" >№ докум.</text>
<text x="419.71" y="377.15" font-size="5.6" font-style="italic" text-anchor="middle" fill="#111" stroke="none" textLength="12.5" lengthAdjust="spacingAndGlyphs" >Подп.</text>
<text x="437.77" y="377.15" font-size="5.6" font-style="italic" text-anchor="middle" fill="#111" stroke="none" textLength="12.0" lengthAdjust="spacingAndGlyphs" >Дата</text>
<text x="352.27" y="384.38" font-size="5.6" font-style="italic" text-anchor="start" fill="#111" stroke="none" textLength="17.0" lengthAdjust="spacingAndGlyphs" >Разраб.</text>
<text x="352.27" y="391.60" font-size="5.6" font-style="italic" text-anchor="start" fill="#111" stroke="none" textLength="11.5" lengthAdjust="spacingAndGlyphs" >Пров.</text>
<text x="352.27" y="398.82" font-size="5.6" font-style="italic" text-anchor="start" fill="#111" stroke="none" textLength="20.0" lengthAdjust="spacingAndGlyphs" >Т. контр.</text>
<text x="352.27" y="406.05" font-size="5.6" font-style="italic" text-anchor="start" fill="#111" stroke="none" textLength="19.0" lengthAdjust="spacingAndGlyphs" >Нач.отд.</text>
<text x="352.27" y="413.27" font-size="5.6" font-style="italic" text-anchor="start" fill="#111" stroke="none" textLength="20.5" lengthAdjust="spacingAndGlyphs" >Н. контр.</text>
<text x="352.27" y="420.50" font-size="5.6" font-style="italic" text-anchor="start" fill="#111" stroke="none" textLength="9.5" lengthAdjust="spacingAndGlyphs" >Утв.</text>
<text x="534.40" y="356.40" font-size="10.6" font-style="italic" text-anchor="middle" fill="#111" stroke="none" textLength="121.0" lengthAdjust="spacingAndGlyphs" >СК-ЦН-34-700-1П-000 ВО</text>
<text x="449.40" y="373.80" font-size="8.8" font-style="italic" text-anchor="start" fill="#111" stroke="none" textLength="96.3" lengthAdjust="spacingAndGlyphs" >Циклон СК-ЦН-34-700х1П</text>
<text x="480.00" y="386.20" font-size="8.8" font-style="italic" text-anchor="start" fill="#111" stroke="none" textLength="33.0" lengthAdjust="spacingAndGlyphs" >(правый)</text>
<text x="556.99" y="369.92" font-size="5.6" font-style="italic" text-anchor="middle" fill="#111" stroke="none" textLength="9.5" lengthAdjust="spacingAndGlyphs" >Лит.</text>
<text x="580.11" y="369.92" font-size="5.6" font-style="italic" text-anchor="middle" fill="#111" stroke="none" textLength="14.5" lengthAdjust="spacingAndGlyphs" >Масса</text>
<text x="605.39" y="369.92" font-size="5.6" font-style="italic" text-anchor="middle" fill="#111" stroke="none" textLength="20.5" lengthAdjust="spacingAndGlyphs" >Масштаб</text>
<text x="580.11" y="384.30" font-size="6.6" font-style="italic" text-anchor="middle" fill="#111" stroke="none" textLength="13.5" lengthAdjust="spacingAndGlyphs" >222,1</text>
<text x="605.39" y="384.30" font-size="6.6" font-style="italic" text-anchor="middle" fill="#111" stroke="none" textLength="12.0" lengthAdjust="spacingAndGlyphs" >1:20</text>
<text x="548.32" y="398.82" font-size="5.6" font-style="italic" text-anchor="start" fill="#111" stroke="none" textLength="10.8" lengthAdjust="spacingAndGlyphs" >Лист</text>
<text x="578.37" y="398.82" font-size="5.6" font-style="italic" text-anchor="start" fill="#111" stroke="none" textLength="15.5" lengthAdjust="spacingAndGlyphs" >Листов</text>
<text x="606.60" y="398.82" font-size="5.6" font-style="italic" text-anchor="middle" fill="#111" stroke="none" >1</text>
<rect x="563.1" y="404" width="31.3" height="16.2" fill="#111" stroke="none" rx="0.8"/>
<text x="578.8" y="418.3" font-size="17.5" font-weight="bold" text-anchor="middle" fill="#111" stroke="#fff" stroke-width="1.1" paint-order="stroke" textLength="27.5" lengthAdjust="spacingAndGlyphs" style="font-style:normal">KVZR</text>
<path d="M560,405.6 L550.2,407 Q548.6,408 550.2,408.9 L559,410.3 Q560.6,411.2 559,412.1 L550.2,413.5 Q548.6,414.4 550.2,415.3 L559,416.7 Q560.6,417.6 559,418.3 L549.5,418.9" fill="none" stroke="#111" stroke-width="3.0" stroke-linecap="round" stroke-linejoin="round"/>
<path d="M560,405.6 L550.2,407 Q548.6,408 550.2,408.9 L559,410.3 Q560.6,411.2 559,412.1 L550.2,413.5 Q548.6,414.4 550.2,415.3 L559,416.7 Q560.6,417.6 559,418.3 L549.5,418.9" fill="none" stroke="#fff" stroke-width="0.7" stroke-linecap="round" stroke-linejoin="round"/>
<text x="596.10" y="410.00" font-size="5" font-style="italic" text-anchor="start" fill="#111" stroke="none" textLength="21.0" lengthAdjust="spacingAndGlyphs" >Котельный</text>
<text x="596.10" y="417.70" font-size="5" font-style="italic" text-anchor="start" fill="#111" stroke="none" textLength="20.5" lengthAdjust="spacingAndGlyphs" >завод РЭП</text>
<text x="486.00" y="427.00" font-size="5" font-style="italic" text-anchor="start" fill="#111" stroke="none" textLength="24.6" lengthAdjust="spacingAndGlyphs" >Копировал</text>
<text x="553.90" y="427.00" font-size="5" font-style="italic" text-anchor="start" fill="#111" stroke="none" textLength="25.7" lengthAdjust="spacingAndGlyphs" >Формат А3</text>
<g font-size="4.3" fill="#e4e4e4" stroke="none" text-anchor="middle" font-style="normal"><text x="-6.6" y="431.3" transform="rotate(-19.5 -6.6 429.9)">kotlah-kv-kz.kz</text>
<text x="-7.7" y="377.6" transform="rotate(-19.5 -7.7 376.2)">kotlah-kv-kz.kz</text>
<text x="6.5" y="393.9" transform="rotate(-19.5 6.5 392.5)">kotlah-kv-kz.kz</text>
<text x="20.7" y="410.2" transform="rotate(-19.5 20.7 408.8)">kotlah-kv-kz.kz</text>
<text x="34.9" y="426.5" transform="rotate(-19.5 34.9 425.1)">kotlah-kv-kz.kz</text>
<text x="-8.8" y="323.9" transform="rotate(-19.5 -8.8 322.5)">kotlah-kv-kz.kz</text>
<text x="5.4" y="340.2" transform="rotate(-19.5 5.4 338.8)">kotlah-kv-kz.kz</text>
<text x="19.6" y="356.5" transform="rotate(-19.5 19.6 355.1)">kotlah-kv-kz.kz</text>
<text x="33.8" y="372.8" transform="rotate(-19.5 33.8 371.4)">kotlah-kv-kz.kz</text>
<text x="48.0" y="389.1" transform="rotate(-19.5 48.0 387.7)">kotlah-kv-kz.kz</text>
<text x="62.2" y="405.4" transform="rotate(-19.5 62.2 404.0)">kotlah-kv-kz.kz</text>
<text x="76.4" y="421.7" transform="rotate(-19.5 76.4 420.3)">kotlah-kv-kz.kz</text>
<text x="90.6" y="438.0" transform="rotate(-19.5 90.6 436.6)">kotlah-kv-kz.kz</text>
<text x="-9.9" y="270.2" transform="rotate(-19.5 -9.9 268.8)">kotlah-kv-kz.kz</text>
<text x="4.3" y="286.5" transform="rotate(-19.5 4.3 285.1)">kotlah-kv-kz.kz</text>
<text x="18.5" y="302.8" transform="rotate(-19.5 18.5 301.4)">kotlah-kv-kz.kz</text>
<text x="32.7" y="319.1" transform="rotate(-19.5 32.7 317.7)">kotlah-kv-kz.kz</text>
<text x="46.9" y="335.4" transform="rotate(-19.5 46.9 334.0)">kotlah-kv-kz.kz</text>
<text x="61.1" y="351.7" transform="rotate(-19.5 61.1 350.3)">kotlah-kv-kz.kz</text>
<text x="75.3" y="368.0" transform="rotate(-19.5 75.3 366.6)">kotlah-kv-kz.kz</text>
<text x="89.5" y="384.3" transform="rotate(-19.5 89.5 382.9)">kotlah-kv-kz.kz</text>
<text x="103.7" y="400.6" transform="rotate(-19.5 103.7 399.2)">kotlah-kv-kz.kz</text>
<text x="117.9" y="416.9" transform="rotate(-19.5 117.9 415.5)">kotlah-kv-kz.kz</text>
<text x="132.1" y="433.2" transform="rotate(-19.5 132.1 431.8)">kotlah-kv-kz.kz</text>
<text x="-11.0" y="216.5" transform="rotate(-19.5 -11.0 215.1)">kotlah-kv-kz.kz</text>
<text x="3.2" y="232.8" transform="rotate(-19.5 3.2 231.4)">kotlah-kv-kz.kz</text>
<text x="17.4" y="249.1" transform="rotate(-19.5 17.4 247.7)">kotlah-kv-kz.kz</text>
<text x="31.6" y="265.4" transform="rotate(-19.5 31.6 264.0)">kotlah-kv-kz.kz</text>
<text x="45.8" y="281.7" transform="rotate(-19.5 45.8 280.3)">kotlah-kv-kz.kz</text>
<text x="60.0" y="298.0" transform="rotate(-19.5 60.0 296.6)">kotlah-kv-kz.kz</text>
<text x="74.2" y="314.3" transform="rotate(-19.5 74.2 312.9)">kotlah-kv-kz.kz</text>
<text x="88.4" y="330.6" transform="rotate(-19.5 88.4 329.2)">kotlah-kv-kz.kz</text>
<text x="102.6" y="346.9" transform="rotate(-19.5 102.6 345.5)">kotlah-kv-kz.kz</text>
<text x="116.8" y="363.2" transform="rotate(-19.5 116.8 361.8)">kotlah-kv-kz.kz</text>
<text x="131.0" y="379.5" transform="rotate(-19.5 131.0 378.1)">kotlah-kv-kz.kz</text>
<text x="145.2" y="395.8" transform="rotate(-19.5 145.2 394.4)">kotlah-kv-kz.kz</text>
<text x="159.4" y="412.1" transform="rotate(-19.5 159.4 410.7)">kotlah-kv-kz.kz</text>
<text x="173.6" y="428.4" transform="rotate(-19.5 173.6 427.0)">kotlah-kv-kz.kz</text>
<text x="-12.1" y="162.8" transform="rotate(-19.5 -12.1 161.4)">kotlah-kv-kz.kz</text>
<text x="2.1" y="179.1" transform="rotate(-19.5 2.1 177.7)">kotlah-kv-kz.kz</text>
<text x="16.3" y="195.4" transform="rotate(-19.5 16.3 194.0)">kotlah-kv-kz.kz</text>
<text x="30.5" y="211.7" transform="rotate(-19.5 30.5 210.3)">kotlah-kv-kz.kz</text>
<text x="44.7" y="228.0" transform="rotate(-19.5 44.7 226.6)">kotlah-kv-kz.kz</text>
<text x="58.9" y="244.3" transform="rotate(-19.5 58.9 242.9)">kotlah-kv-kz.kz</text>
<text x="73.1" y="260.6" transform="rotate(-19.5 73.1 259.2)">kotlah-kv-kz.kz</text>
<text x="87.3" y="276.9" transform="rotate(-19.5 87.3 275.5)">kotlah-kv-kz.kz</text>
<text x="101.5" y="293.2" transform="rotate(-19.5 101.5 291.8)">kotlah-kv-kz.kz</text>
<text x="115.7" y="309.5" transform="rotate(-19.5 115.7 308.1)">kotlah-kv-kz.kz</text>
<text x="129.9" y="325.8" transform="rotate(-19.5 129.9 324.4)">kotlah-kv-kz.kz</text>
<text x="144.1" y="342.1" transform="rotate(-19.5 144.1 340.7)">kotlah-kv-kz.kz</text>
<text x="158.3" y="358.4" transform="rotate(-19.5 158.3 357.0)">kotlah-kv-kz.kz</text>
<text x="172.5" y="374.7" transform="rotate(-19.5 172.5 373.3)">kotlah-kv-kz.kz</text>
<text x="186.7" y="391.0" transform="rotate(-19.5 186.7 389.6)">kotlah-kv-kz.kz</text>
<text x="200.9" y="407.3" transform="rotate(-19.5 200.9 405.9)">kotlah-kv-kz.kz</text>
<text x="215.1" y="423.6" transform="rotate(-19.5 215.1 422.2)">kotlah-kv-kz.kz</text>
<text x="-13.2" y="109.1" transform="rotate(-19.5 -13.2 107.7)">kotlah-kv-kz.kz</text>
<text x="1.0" y="125.4" transform="rotate(-19.5 1.0 124.0)">kotlah-kv-kz.kz</text>
<text x="15.2" y="141.7" transform="rotate(-19.5 15.2 140.3)">kotlah-kv-kz.kz</text>
<text x="29.4" y="158.0" transform="rotate(-19.5 29.4 156.6)">kotlah-kv-kz.kz</text>
<text x="43.6" y="174.3" transform="rotate(-19.5 43.6 172.9)">kotlah-kv-kz.kz</text>
<text x="57.8" y="190.6" transform="rotate(-19.5 57.8 189.2)">kotlah-kv-kz.kz</text>
<text x="72.0" y="206.9" transform="rotate(-19.5 72.0 205.5)">kotlah-kv-kz.kz</text>
<text x="86.2" y="223.2" transform="rotate(-19.5 86.2 221.8)">kotlah-kv-kz.kz</text>
<text x="100.4" y="239.5" transform="rotate(-19.5 100.4 238.1)">kotlah-kv-kz.kz</text>
<text x="114.6" y="255.8" transform="rotate(-19.5 114.6 254.4)">kotlah-kv-kz.kz</text>
<text x="128.8" y="272.1" transform="rotate(-19.5 128.8 270.7)">kotlah-kv-kz.kz</text>
<text x="143.0" y="288.4" transform="rotate(-19.5 143.0 287.0)">kotlah-kv-kz.kz</text>
<text x="157.2" y="304.7" transform="rotate(-19.5 157.2 303.3)">kotlah-kv-kz.kz</text>
<text x="171.4" y="321.0" transform="rotate(-19.5 171.4 319.6)">kotlah-kv-kz.kz</text>
<text x="185.6" y="337.3" transform="rotate(-19.5 185.6 335.9)">kotlah-kv-kz.kz</text>
<text x="199.8" y="353.6" transform="rotate(-19.5 199.8 352.2)">kotlah-kv-kz.kz</text>
<text x="214.0" y="369.9" transform="rotate(-19.5 214.0 368.5)">kotlah-kv-kz.kz</text>
<text x="228.2" y="386.2" transform="rotate(-19.5 228.2 384.8)">kotlah-kv-kz.kz</text>
<text x="242.4" y="402.5" transform="rotate(-19.5 242.4 401.1)">kotlah-kv-kz.kz</text>
<text x="256.6" y="418.8" transform="rotate(-19.5 256.6 417.4)">kotlah-kv-kz.kz</text>
<text x="270.8" y="435.1" transform="rotate(-19.5 270.8 433.7)">kotlah-kv-kz.kz</text>
<text x="-14.3" y="55.4" transform="rotate(-19.5 -14.3 54.0)">kotlah-kv-kz.kz</text>
<text x="-0.1" y="71.7" transform="rotate(-19.5 -0.1 70.3)">kotlah-kv-kz.kz</text>
<text x="14.1" y="88.0" transform="rotate(-19.5 14.1 86.6)">kotlah-kv-kz.kz</text>
<text x="28.3" y="104.3" transform="rotate(-19.5 28.3 102.9)">kotlah-kv-kz.kz</text>
<text x="42.5" y="120.6" transform="rotate(-19.5 42.5 119.2)">kotlah-kv-kz.kz</text>
<text x="56.7" y="136.9" transform="rotate(-19.5 56.7 135.5)">kotlah-kv-kz.kz</text>
<text x="70.9" y="153.2" transform="rotate(-19.5 70.9 151.8)">kotlah-kv-kz.kz</text>
<text x="85.1" y="169.5" transform="rotate(-19.5 85.1 168.1)">kotlah-kv-kz.kz</text>
<text x="99.3" y="185.8" transform="rotate(-19.5 99.3 184.4)">kotlah-kv-kz.kz</text>
<text x="113.5" y="202.1" transform="rotate(-19.5 113.5 200.7)">kotlah-kv-kz.kz</text>
<text x="127.7" y="218.4" transform="rotate(-19.5 127.7 217.0)">kotlah-kv-kz.kz</text>
<text x="141.9" y="234.7" transform="rotate(-19.5 141.9 233.3)">kotlah-kv-kz.kz</text>
<text x="156.1" y="251.0" transform="rotate(-19.5 156.1 249.6)">kotlah-kv-kz.kz</text>
<text x="170.3" y="267.3" transform="rotate(-19.5 170.3 265.9)">kotlah-kv-kz.kz</text>
<text x="184.5" y="283.6" transform="rotate(-19.5 184.5 282.2)">kotlah-kv-kz.kz</text>
<text x="198.7" y="299.9" transform="rotate(-19.5 198.7 298.5)">kotlah-kv-kz.kz</text>
<text x="212.9" y="316.2" transform="rotate(-19.5 212.9 314.8)">kotlah-kv-kz.kz</text>
<text x="227.1" y="332.5" transform="rotate(-19.5 227.1 331.1)">kotlah-kv-kz.kz</text>
<text x="241.3" y="348.8" transform="rotate(-19.5 241.3 347.4)">kotlah-kv-kz.kz</text>
<text x="255.5" y="365.1" transform="rotate(-19.5 255.5 363.7)">kotlah-kv-kz.kz</text>
<text x="269.7" y="381.4" transform="rotate(-19.5 269.7 380.0)">kotlah-kv-kz.kz</text>
<text x="283.9" y="397.7" transform="rotate(-19.5 283.9 396.3)">kotlah-kv-kz.kz</text>
<text x="298.1" y="414.0" transform="rotate(-19.5 298.1 412.6)">kotlah-kv-kz.kz</text>
<text x="312.3" y="430.3" transform="rotate(-19.5 312.3 428.9)">kotlah-kv-kz.kz</text>
<text x="-15.4" y="1.7" transform="rotate(-19.5 -15.4 0.3)">kotlah-kv-kz.kz</text>
<text x="-1.2" y="18.0" transform="rotate(-19.5 -1.2 16.6)">kotlah-kv-kz.kz</text>
<text x="13.0" y="34.3" transform="rotate(-19.5 13.0 32.9)">kotlah-kv-kz.kz</text>
<text x="27.2" y="50.6" transform="rotate(-19.5 27.2 49.2)">kotlah-kv-kz.kz</text>
<text x="41.4" y="66.9" transform="rotate(-19.5 41.4 65.5)">kotlah-kv-kz.kz</text>
<text x="55.6" y="83.2" transform="rotate(-19.5 55.6 81.8)">kotlah-kv-kz.kz</text>
<text x="69.8" y="99.5" transform="rotate(-19.5 69.8 98.1)">kotlah-kv-kz.kz</text>
<text x="84.0" y="115.8" transform="rotate(-19.5 84.0 114.4)">kotlah-kv-kz.kz</text>
<text x="98.2" y="132.1" transform="rotate(-19.5 98.2 130.7)">kotlah-kv-kz.kz</text>
<text x="112.4" y="148.4" transform="rotate(-19.5 112.4 147.0)">kotlah-kv-kz.kz</text>
<text x="126.6" y="164.7" transform="rotate(-19.5 126.6 163.3)">kotlah-kv-kz.kz</text>
<text x="140.8" y="181.0" transform="rotate(-19.5 140.8 179.6)">kotlah-kv-kz.kz</text>
<text x="155.0" y="197.3" transform="rotate(-19.5 155.0 195.9)">kotlah-kv-kz.kz</text>
<text x="169.2" y="213.6" transform="rotate(-19.5 169.2 212.2)">kotlah-kv-kz.kz</text>
<text x="183.4" y="229.9" transform="rotate(-19.5 183.4 228.5)">kotlah-kv-kz.kz</text>
<text x="197.6" y="246.2" transform="rotate(-19.5 197.6 244.8)">kotlah-kv-kz.kz</text>
<text x="211.8" y="262.5" transform="rotate(-19.5 211.8 261.1)">kotlah-kv-kz.kz</text>
<text x="226.0" y="278.8" transform="rotate(-19.5 226.0 277.4)">kotlah-kv-kz.kz</text>
<text x="240.2" y="295.1" transform="rotate(-19.5 240.2 293.7)">kotlah-kv-kz.kz</text>
<text x="254.4" y="311.4" transform="rotate(-19.5 254.4 310.0)">kotlah-kv-kz.kz</text>
<text x="268.6" y="327.7" transform="rotate(-19.5 268.6 326.3)">kotlah-kv-kz.kz</text>
<text x="282.8" y="344.0" transform="rotate(-19.5 282.8 342.6)">kotlah-kv-kz.kz</text>
<text x="297.0" y="360.3" transform="rotate(-19.5 297.0 358.9)">kotlah-kv-kz.kz</text>
<text x="311.2" y="376.6" transform="rotate(-19.5 311.2 375.2)">kotlah-kv-kz.kz</text>
<text x="325.4" y="392.9" transform="rotate(-19.5 325.4 391.5)">kotlah-kv-kz.kz</text>
<text x="339.6" y="409.2" transform="rotate(-19.5 339.6 407.8)">kotlah-kv-kz.kz</text>
<text x="353.8" y="425.5" transform="rotate(-19.5 353.8 424.1)">kotlah-kv-kz.kz</text>
<text x="26.1" y="-3.1" transform="rotate(-19.5 26.1 -4.5)">kotlah-kv-kz.kz</text>
<text x="40.3" y="13.2" transform="rotate(-19.5 40.3 11.8)">kotlah-kv-kz.kz</text>
<text x="54.5" y="29.5" transform="rotate(-19.5 54.5 28.1)">kotlah-kv-kz.kz</text>
<text x="68.7" y="45.8" transform="rotate(-19.5 68.7 44.4)">kotlah-kv-kz.kz</text>
<text x="82.9" y="62.1" transform="rotate(-19.5 82.9 60.7)">kotlah-kv-kz.kz</text>
<text x="97.1" y="78.4" transform="rotate(-19.5 97.1 77.0)">kotlah-kv-kz.kz</text>
<text x="111.3" y="94.7" transform="rotate(-19.5 111.3 93.3)">kotlah-kv-kz.kz</text>
<text x="125.5" y="111.0" transform="rotate(-19.5 125.5 109.6)">kotlah-kv-kz.kz</text>
<text x="139.7" y="127.3" transform="rotate(-19.5 139.7 125.9)">kotlah-kv-kz.kz</text>
<text x="153.9" y="143.6" transform="rotate(-19.5 153.9 142.2)">kotlah-kv-kz.kz</text>
<text x="168.1" y="159.9" transform="rotate(-19.5 168.1 158.5)">kotlah-kv-kz.kz</text>
<text x="182.3" y="176.2" transform="rotate(-19.5 182.3 174.8)">kotlah-kv-kz.kz</text>
<text x="196.5" y="192.5" transform="rotate(-19.5 196.5 191.1)">kotlah-kv-kz.kz</text>
<text x="210.7" y="208.8" transform="rotate(-19.5 210.7 207.4)">kotlah-kv-kz.kz</text>
<text x="224.9" y="225.1" transform="rotate(-19.5 224.9 223.7)">kotlah-kv-kz.kz</text>
<text x="239.1" y="241.4" transform="rotate(-19.5 239.1 240.0)">kotlah-kv-kz.kz</text>
<text x="253.3" y="257.7" transform="rotate(-19.5 253.3 256.3)">kotlah-kv-kz.kz</text>
<text x="267.5" y="274.0" transform="rotate(-19.5 267.5 272.6)">kotlah-kv-kz.kz</text>
<text x="281.7" y="290.3" transform="rotate(-19.5 281.7 288.9)">kotlah-kv-kz.kz</text>
<text x="295.9" y="306.6" transform="rotate(-19.5 295.9 305.2)">kotlah-kv-kz.kz</text>
<text x="310.1" y="322.9" transform="rotate(-19.5 310.1 321.5)">kotlah-kv-kz.kz</text>
<text x="324.3" y="339.2" transform="rotate(-19.5 324.3 337.8)">kotlah-kv-kz.kz</text>
<text x="338.5" y="355.5" transform="rotate(-19.5 338.5 354.1)">kotlah-kv-kz.kz</text>
<text x="352.7" y="371.8" transform="rotate(-19.5 352.7 370.4)">kotlah-kv-kz.kz</text>
<text x="366.9" y="388.1" transform="rotate(-19.5 366.9 386.7)">kotlah-kv-kz.kz</text>
<text x="381.1" y="404.4" transform="rotate(-19.5 381.1 403.0)">kotlah-kv-kz.kz</text>
<text x="395.3" y="420.7" transform="rotate(-19.5 395.3 419.3)">kotlah-kv-kz.kz</text>
<text x="409.5" y="437.0" transform="rotate(-19.5 409.5 435.6)">kotlah-kv-kz.kz</text>
<text x="81.8" y="8.4" transform="rotate(-19.5 81.8 7.0)">kotlah-kv-kz.kz</text>
<text x="96.0" y="24.7" transform="rotate(-19.5 96.0 23.3)">kotlah-kv-kz.kz</text>
<text x="110.2" y="41.0" transform="rotate(-19.5 110.2 39.6)">kotlah-kv-kz.kz</text>
<text x="124.4" y="57.3" transform="rotate(-19.5 124.4 55.9)">kotlah-kv-kz.kz</text>
<text x="138.6" y="73.6" transform="rotate(-19.5 138.6 72.2)">kotlah-kv-kz.kz</text>
<text x="152.8" y="89.9" transform="rotate(-19.5 152.8 88.5)">kotlah-kv-kz.kz</text>
<text x="167.0" y="106.2" transform="rotate(-19.5 167.0 104.8)">kotlah-kv-kz.kz</text>
<text x="181.2" y="122.5" transform="rotate(-19.5 181.2 121.1)">kotlah-kv-kz.kz</text>
<text x="195.4" y="138.8" transform="rotate(-19.5 195.4 137.4)">kotlah-kv-kz.kz</text>
<text x="209.6" y="155.1" transform="rotate(-19.5 209.6 153.7)">kotlah-kv-kz.kz</text>
<text x="223.8" y="171.4" transform="rotate(-19.5 223.8 170.0)">kotlah-kv-kz.kz</text>
<text x="238.0" y="187.7" transform="rotate(-19.5 238.0 186.3)">kotlah-kv-kz.kz</text>
<text x="252.2" y="204.0" transform="rotate(-19.5 252.2 202.6)">kotlah-kv-kz.kz</text>
<text x="266.4" y="220.3" transform="rotate(-19.5 266.4 218.9)">kotlah-kv-kz.kz</text>
<text x="280.6" y="236.6" transform="rotate(-19.5 280.6 235.2)">kotlah-kv-kz.kz</text>
<text x="294.8" y="252.9" transform="rotate(-19.5 294.8 251.5)">kotlah-kv-kz.kz</text>
<text x="309.0" y="269.2" transform="rotate(-19.5 309.0 267.8)">kotlah-kv-kz.kz</text>
<text x="323.2" y="285.5" transform="rotate(-19.5 323.2 284.1)">kotlah-kv-kz.kz</text>
<text x="337.4" y="301.8" transform="rotate(-19.5 337.4 300.4)">kotlah-kv-kz.kz</text>
<text x="351.6" y="318.1" transform="rotate(-19.5 351.6 316.7)">kotlah-kv-kz.kz</text>
<text x="365.8" y="334.4" transform="rotate(-19.5 365.8 333.0)">kotlah-kv-kz.kz</text>
<text x="380.0" y="350.7" transform="rotate(-19.5 380.0 349.3)">kotlah-kv-kz.kz</text>
<text x="394.2" y="367.0" transform="rotate(-19.5 394.2 365.6)">kotlah-kv-kz.kz</text>
<text x="408.4" y="383.3" transform="rotate(-19.5 408.4 381.9)">kotlah-kv-kz.kz</text>
<text x="422.6" y="399.6" transform="rotate(-19.5 422.6 398.2)">kotlah-kv-kz.kz</text>
<text x="436.8" y="415.9" transform="rotate(-19.5 436.8 414.5)">kotlah-kv-kz.kz</text>
<text x="451.0" y="432.2" transform="rotate(-19.5 451.0 430.8)">kotlah-kv-kz.kz</text>
<text x="123.3" y="3.6" transform="rotate(-19.5 123.3 2.2)">kotlah-kv-kz.kz</text>
<text x="137.5" y="19.9" transform="rotate(-19.5 137.5 18.5)">kotlah-kv-kz.kz</text>
<text x="151.7" y="36.2" transform="rotate(-19.5 151.7 34.8)">kotlah-kv-kz.kz</text>
<text x="165.9" y="52.5" transform="rotate(-19.5 165.9 51.1)">kotlah-kv-kz.kz</text>
<text x="180.1" y="68.8" transform="rotate(-19.5 180.1 67.4)">kotlah-kv-kz.kz</text>
<text x="194.3" y="85.1" transform="rotate(-19.5 194.3 83.7)">kotlah-kv-kz.kz</text>
<text x="208.5" y="101.4" transform="rotate(-19.5 208.5 100.0)">kotlah-kv-kz.kz</text>
<text x="222.7" y="117.7" transform="rotate(-19.5 222.7 116.3)">kotlah-kv-kz.kz</text>
<text x="236.9" y="134.0" transform="rotate(-19.5 236.9 132.6)">kotlah-kv-kz.kz</text>
<text x="251.1" y="150.3" transform="rotate(-19.5 251.1 148.9)">kotlah-kv-kz.kz</text>
<text x="265.3" y="166.6" transform="rotate(-19.5 265.3 165.2)">kotlah-kv-kz.kz</text>
<text x="279.5" y="182.9" transform="rotate(-19.5 279.5 181.5)">kotlah-kv-kz.kz</text>
<text x="293.7" y="199.2" transform="rotate(-19.5 293.7 197.8)">kotlah-kv-kz.kz</text>
<text x="307.9" y="215.5" transform="rotate(-19.5 307.9 214.1)">kotlah-kv-kz.kz</text>
<text x="322.1" y="231.8" transform="rotate(-19.5 322.1 230.4)">kotlah-kv-kz.kz</text>
<text x="336.3" y="248.1" transform="rotate(-19.5 336.3 246.7)">kotlah-kv-kz.kz</text>
<text x="350.5" y="264.4" transform="rotate(-19.5 350.5 263.0)">kotlah-kv-kz.kz</text>
<text x="364.7" y="280.7" transform="rotate(-19.5 364.7 279.3)">kotlah-kv-kz.kz</text>
<text x="378.9" y="297.0" transform="rotate(-19.5 378.9 295.6)">kotlah-kv-kz.kz</text>
<text x="393.1" y="313.3" transform="rotate(-19.5 393.1 311.9)">kotlah-kv-kz.kz</text>
<text x="407.3" y="329.6" transform="rotate(-19.5 407.3 328.2)">kotlah-kv-kz.kz</text>
<text x="421.5" y="345.9" transform="rotate(-19.5 421.5 344.5)">kotlah-kv-kz.kz</text>
<text x="435.7" y="362.2" transform="rotate(-19.5 435.7 360.8)">kotlah-kv-kz.kz</text>
<text x="449.9" y="378.5" transform="rotate(-19.5 449.9 377.1)">kotlah-kv-kz.kz</text>
<text x="464.1" y="394.8" transform="rotate(-19.5 464.1 393.4)">kotlah-kv-kz.kz</text>
<text x="478.3" y="411.1" transform="rotate(-19.5 478.3 409.7)">kotlah-kv-kz.kz</text>
<text x="492.5" y="427.4" transform="rotate(-19.5 492.5 426.0)">kotlah-kv-kz.kz</text>
<text x="164.8" y="-1.2" transform="rotate(-19.5 164.8 -2.6)">kotlah-kv-kz.kz</text>
<text x="179.0" y="15.1" transform="rotate(-19.5 179.0 13.7)">kotlah-kv-kz.kz</text>
<text x="193.2" y="31.4" transform="rotate(-19.5 193.2 30.0)">kotlah-kv-kz.kz</text>
<text x="207.4" y="47.7" transform="rotate(-19.5 207.4 46.3)">kotlah-kv-kz.kz</text>
<text x="221.6" y="64.0" transform="rotate(-19.5 221.6 62.6)">kotlah-kv-kz.kz</text>
<text x="235.8" y="80.3" transform="rotate(-19.5 235.8 78.9)">kotlah-kv-kz.kz</text>
<text x="250.0" y="96.6" transform="rotate(-19.5 250.0 95.2)">kotlah-kv-kz.kz</text>
<text x="264.2" y="112.9" transform="rotate(-19.5 264.2 111.5)">kotlah-kv-kz.kz</text>
<text x="278.4" y="129.2" transform="rotate(-19.5 278.4 127.8)">kotlah-kv-kz.kz</text>
<text x="292.6" y="145.5" transform="rotate(-19.5 292.6 144.1)">kotlah-kv-kz.kz</text>
<text x="306.8" y="161.8" transform="rotate(-19.5 306.8 160.4)">kotlah-kv-kz.kz</text>
<text x="321.0" y="178.1" transform="rotate(-19.5 321.0 176.7)">kotlah-kv-kz.kz</text>
<text x="335.2" y="194.4" transform="rotate(-19.5 335.2 193.0)">kotlah-kv-kz.kz</text>
<text x="349.4" y="210.7" transform="rotate(-19.5 349.4 209.3)">kotlah-kv-kz.kz</text>
<text x="363.6" y="227.0" transform="rotate(-19.5 363.6 225.6)">kotlah-kv-kz.kz</text>
<text x="377.8" y="243.3" transform="rotate(-19.5 377.8 241.9)">kotlah-kv-kz.kz</text>
<text x="392.0" y="259.6" transform="rotate(-19.5 392.0 258.2)">kotlah-kv-kz.kz</text>
<text x="406.2" y="275.9" transform="rotate(-19.5 406.2 274.5)">kotlah-kv-kz.kz</text>
<text x="420.4" y="292.2" transform="rotate(-19.5 420.4 290.8)">kotlah-kv-kz.kz</text>
<text x="434.6" y="308.5" transform="rotate(-19.5 434.6 307.1)">kotlah-kv-kz.kz</text>
<text x="448.8" y="324.8" transform="rotate(-19.5 448.8 323.4)">kotlah-kv-kz.kz</text>
<text x="463.0" y="341.1" transform="rotate(-19.5 463.0 339.7)">kotlah-kv-kz.kz</text>
<text x="477.2" y="357.4" transform="rotate(-19.5 477.2 356.0)">kotlah-kv-kz.kz</text>
<text x="491.4" y="373.7" transform="rotate(-19.5 491.4 372.3)">kotlah-kv-kz.kz</text>
<text x="505.6" y="390.0" transform="rotate(-19.5 505.6 388.6)">kotlah-kv-kz.kz</text>
<text x="519.8" y="406.3" transform="rotate(-19.5 519.8 404.9)">kotlah-kv-kz.kz</text>
<text x="534.0" y="422.6" transform="rotate(-19.5 534.0 421.2)">kotlah-kv-kz.kz</text>
<text x="548.2" y="438.9" transform="rotate(-19.5 548.2 437.5)">kotlah-kv-kz.kz</text>
<text x="206.3" y="-6.0" transform="rotate(-19.5 206.3 -7.4)">kotlah-kv-kz.kz</text>
<text x="220.5" y="10.3" transform="rotate(-19.5 220.5 8.9)">kotlah-kv-kz.kz</text>
<text x="234.7" y="26.6" transform="rotate(-19.5 234.7 25.2)">kotlah-kv-kz.kz</text>
<text x="248.9" y="42.9" transform="rotate(-19.5 248.9 41.5)">kotlah-kv-kz.kz</text>
<text x="263.1" y="59.2" transform="rotate(-19.5 263.1 57.8)">kotlah-kv-kz.kz</text>
<text x="277.3" y="75.5" transform="rotate(-19.5 277.3 74.1)">kotlah-kv-kz.kz</text>
<text x="291.5" y="91.8" transform="rotate(-19.5 291.5 90.4)">kotlah-kv-kz.kz</text>
<text x="305.7" y="108.1" transform="rotate(-19.5 305.7 106.7)">kotlah-kv-kz.kz</text>
<text x="319.9" y="124.4" transform="rotate(-19.5 319.9 123.0)">kotlah-kv-kz.kz</text>
<text x="334.1" y="140.7" transform="rotate(-19.5 334.1 139.3)">kotlah-kv-kz.kz</text>
<text x="348.3" y="157.0" transform="rotate(-19.5 348.3 155.6)">kotlah-kv-kz.kz</text>
<text x="362.5" y="173.3" transform="rotate(-19.5 362.5 171.9)">kotlah-kv-kz.kz</text>
<text x="376.7" y="189.6" transform="rotate(-19.5 376.7 188.2)">kotlah-kv-kz.kz</text>
<text x="390.9" y="205.9" transform="rotate(-19.5 390.9 204.5)">kotlah-kv-kz.kz</text>
<text x="405.1" y="222.2" transform="rotate(-19.5 405.1 220.8)">kotlah-kv-kz.kz</text>
<text x="419.3" y="238.5" transform="rotate(-19.5 419.3 237.1)">kotlah-kv-kz.kz</text>
<text x="433.5" y="254.8" transform="rotate(-19.5 433.5 253.4)">kotlah-kv-kz.kz</text>
<text x="447.7" y="271.1" transform="rotate(-19.5 447.7 269.7)">kotlah-kv-kz.kz</text>
<text x="461.9" y="287.4" transform="rotate(-19.5 461.9 286.0)">kotlah-kv-kz.kz</text>
<text x="476.1" y="303.7" transform="rotate(-19.5 476.1 302.3)">kotlah-kv-kz.kz</text>
<text x="490.3" y="320.0" transform="rotate(-19.5 490.3 318.6)">kotlah-kv-kz.kz</text>
<text x="504.5" y="336.3" transform="rotate(-19.5 504.5 334.9)">kotlah-kv-kz.kz</text>
<text x="518.7" y="352.6" transform="rotate(-19.5 518.7 351.2)">kotlah-kv-kz.kz</text>
<text x="532.9" y="368.9" transform="rotate(-19.5 532.9 367.5)">kotlah-kv-kz.kz</text>
<text x="547.1" y="385.2" transform="rotate(-19.5 547.1 383.8)">kotlah-kv-kz.kz</text>
<text x="561.3" y="401.5" transform="rotate(-19.5 561.3 400.1)">kotlah-kv-kz.kz</text>
<text x="575.5" y="417.8" transform="rotate(-19.5 575.5 416.4)">kotlah-kv-kz.kz</text>
<text x="589.7" y="434.1" transform="rotate(-19.5 589.7 432.7)">kotlah-kv-kz.kz</text>
<text x="262.0" y="5.5" transform="rotate(-19.5 262.0 4.1)">kotlah-kv-kz.kz</text>
<text x="276.2" y="21.8" transform="rotate(-19.5 276.2 20.4)">kotlah-kv-kz.kz</text>
<text x="290.4" y="38.1" transform="rotate(-19.5 290.4 36.7)">kotlah-kv-kz.kz</text>
<text x="304.6" y="54.4" transform="rotate(-19.5 304.6 53.0)">kotlah-kv-kz.kz</text>
<text x="318.8" y="70.7" transform="rotate(-19.5 318.8 69.3)">kotlah-kv-kz.kz</text>
<text x="333.0" y="87.0" transform="rotate(-19.5 333.0 85.6)">kotlah-kv-kz.kz</text>
<text x="347.2" y="103.3" transform="rotate(-19.5 347.2 101.9)">kotlah-kv-kz.kz</text>
<text x="361.4" y="119.6" transform="rotate(-19.5 361.4 118.2)">kotlah-kv-kz.kz</text>
<text x="375.6" y="135.9" transform="rotate(-19.5 375.6 134.5)">kotlah-kv-kz.kz</text>
<text x="389.8" y="152.2" transform="rotate(-19.5 389.8 150.8)">kotlah-kv-kz.kz</text>
<text x="404.0" y="168.5" transform="rotate(-19.5 404.0 167.1)">kotlah-kv-kz.kz</text>
<text x="418.2" y="184.8" transform="rotate(-19.5 418.2 183.4)">kotlah-kv-kz.kz</text>
<text x="432.4" y="201.1" transform="rotate(-19.5 432.4 199.7)">kotlah-kv-kz.kz</text>
<text x="446.6" y="217.4" transform="rotate(-19.5 446.6 216.0)">kotlah-kv-kz.kz</text>
<text x="460.8" y="233.7" transform="rotate(-19.5 460.8 232.3)">kotlah-kv-kz.kz</text>
<text x="475.0" y="250.0" transform="rotate(-19.5 475.0 248.6)">kotlah-kv-kz.kz</text>
<text x="489.2" y="266.3" transform="rotate(-19.5 489.2 264.9)">kotlah-kv-kz.kz</text>
<text x="503.4" y="282.6" transform="rotate(-19.5 503.4 281.2)">kotlah-kv-kz.kz</text>
<text x="517.6" y="298.9" transform="rotate(-19.5 517.6 297.5)">kotlah-kv-kz.kz</text>
<text x="531.8" y="315.2" transform="rotate(-19.5 531.8 313.8)">kotlah-kv-kz.kz</text>
<text x="546.0" y="331.5" transform="rotate(-19.5 546.0 330.1)">kotlah-kv-kz.kz</text>
<text x="560.2" y="347.8" transform="rotate(-19.5 560.2 346.4)">kotlah-kv-kz.kz</text>
<text x="574.4" y="364.1" transform="rotate(-19.5 574.4 362.7)">kotlah-kv-kz.kz</text>
<text x="588.6" y="380.4" transform="rotate(-19.5 588.6 379.0)">kotlah-kv-kz.kz</text>
<text x="602.8" y="396.7" transform="rotate(-19.5 602.8 395.3)">kotlah-kv-kz.kz</text>
<text x="617.0" y="413.0" transform="rotate(-19.5 617.0 411.6)">kotlah-kv-kz.kz</text>
<text x="631.2" y="429.3" transform="rotate(-19.5 631.2 427.9)">kotlah-kv-kz.kz</text>
<text x="303.5" y="0.7" transform="rotate(-19.5 303.5 -0.7)">kotlah-kv-kz.kz</text>
<text x="317.7" y="17.0" transform="rotate(-19.5 317.7 15.6)">kotlah-kv-kz.kz</text>
<text x="331.9" y="33.3" transform="rotate(-19.5 331.9 31.9)">kotlah-kv-kz.kz</text>
<text x="346.1" y="49.6" transform="rotate(-19.5 346.1 48.2)">kotlah-kv-kz.kz</text>
<text x="360.3" y="65.9" transform="rotate(-19.5 360.3 64.5)">kotlah-kv-kz.kz</text>
<text x="374.5" y="82.2" transform="rotate(-19.5 374.5 80.8)">kotlah-kv-kz.kz</text>
<text x="388.7" y="98.5" transform="rotate(-19.5 388.7 97.1)">kotlah-kv-kz.kz</text>
<text x="402.9" y="114.8" transform="rotate(-19.5 402.9 113.4)">kotlah-kv-kz.kz</text>
<text x="417.1" y="131.1" transform="rotate(-19.5 417.1 129.7)">kotlah-kv-kz.kz</text>
<text x="431.3" y="147.4" transform="rotate(-19.5 431.3 146.0)">kotlah-kv-kz.kz</text>
<text x="445.5" y="163.7" transform="rotate(-19.5 445.5 162.3)">kotlah-kv-kz.kz</text>
<text x="459.7" y="180.0" transform="rotate(-19.5 459.7 178.6)">kotlah-kv-kz.kz</text>
<text x="473.9" y="196.3" transform="rotate(-19.5 473.9 194.9)">kotlah-kv-kz.kz</text>
<text x="488.1" y="212.6" transform="rotate(-19.5 488.1 211.2)">kotlah-kv-kz.kz</text>
<text x="502.3" y="228.9" transform="rotate(-19.5 502.3 227.5)">kotlah-kv-kz.kz</text>
<text x="516.5" y="245.2" transform="rotate(-19.5 516.5 243.8)">kotlah-kv-kz.kz</text>
<text x="530.7" y="261.5" transform="rotate(-19.5 530.7 260.1)">kotlah-kv-kz.kz</text>
<text x="544.9" y="277.8" transform="rotate(-19.5 544.9 276.4)">kotlah-kv-kz.kz</text>
<text x="559.1" y="294.1" transform="rotate(-19.5 559.1 292.7)">kotlah-kv-kz.kz</text>
<text x="573.3" y="310.4" transform="rotate(-19.5 573.3 309.0)">kotlah-kv-kz.kz</text>
<text x="587.5" y="326.7" transform="rotate(-19.5 587.5 325.3)">kotlah-kv-kz.kz</text>
<text x="601.7" y="343.0" transform="rotate(-19.5 601.7 341.6)">kotlah-kv-kz.kz</text>
<text x="615.9" y="359.3" transform="rotate(-19.5 615.9 357.9)">kotlah-kv-kz.kz</text>
<text x="630.1" y="375.6" transform="rotate(-19.5 630.1 374.2)">kotlah-kv-kz.kz</text>
<text x="644.3" y="391.9" transform="rotate(-19.5 644.3 390.5)">kotlah-kv-kz.kz</text>
<text x="658.5" y="408.2" transform="rotate(-19.5 658.5 406.8)">kotlah-kv-kz.kz</text>
<text x="345.0" y="-4.1" transform="rotate(-19.5 345.0 -5.5)">kotlah-kv-kz.kz</text>
<text x="359.2" y="12.2" transform="rotate(-19.5 359.2 10.8)">kotlah-kv-kz.kz</text>
<text x="373.4" y="28.5" transform="rotate(-19.5 373.4 27.1)">kotlah-kv-kz.kz</text>
<text x="387.6" y="44.8" transform="rotate(-19.5 387.6 43.4)">kotlah-kv-kz.kz</text>
<text x="401.8" y="61.1" transform="rotate(-19.5 401.8 59.7)">kotlah-kv-kz.kz</text>
<text x="416.0" y="77.4" transform="rotate(-19.5 416.0 76.0)">kotlah-kv-kz.kz</text>
<text x="430.2" y="93.7" transform="rotate(-19.5 430.2 92.3)">kotlah-kv-kz.kz</text>
<text x="444.4" y="110.0" transform="rotate(-19.5 444.4 108.6)">kotlah-kv-kz.kz</text>
<text x="458.6" y="126.3" transform="rotate(-19.5 458.6 124.9)">kotlah-kv-kz.kz</text>
<text x="472.8" y="142.6" transform="rotate(-19.5 472.8 141.2)">kotlah-kv-kz.kz</text>
<text x="487.0" y="158.9" transform="rotate(-19.5 487.0 157.5)">kotlah-kv-kz.kz</text>
<text x="501.2" y="175.2" transform="rotate(-19.5 501.2 173.8)">kotlah-kv-kz.kz</text>
<text x="515.4" y="191.5" transform="rotate(-19.5 515.4 190.1)">kotlah-kv-kz.kz</text>
<text x="529.6" y="207.8" transform="rotate(-19.5 529.6 206.4)">kotlah-kv-kz.kz</text>
<text x="543.8" y="224.1" transform="rotate(-19.5 543.8 222.7)">kotlah-kv-kz.kz</text>
<text x="558.0" y="240.4" transform="rotate(-19.5 558.0 239.0)">kotlah-kv-kz.kz</text>
<text x="572.2" y="256.7" transform="rotate(-19.5 572.2 255.3)">kotlah-kv-kz.kz</text>
<text x="586.4" y="273.0" transform="rotate(-19.5 586.4 271.6)">kotlah-kv-kz.kz</text>
<text x="600.6" y="289.3" transform="rotate(-19.5 600.6 287.9)">kotlah-kv-kz.kz</text>
<text x="614.8" y="305.6" transform="rotate(-19.5 614.8 304.2)">kotlah-kv-kz.kz</text>
<text x="629.0" y="321.9" transform="rotate(-19.5 629.0 320.5)">kotlah-kv-kz.kz</text>
<text x="643.2" y="338.2" transform="rotate(-19.5 643.2 336.8)">kotlah-kv-kz.kz</text>
<text x="657.4" y="354.5" transform="rotate(-19.5 657.4 353.1)">kotlah-kv-kz.kz</text>
<text x="400.7" y="7.4" transform="rotate(-19.5 400.7 6.0)">kotlah-kv-kz.kz</text>
<text x="414.9" y="23.7" transform="rotate(-19.5 414.9 22.3)">kotlah-kv-kz.kz</text>
<text x="429.1" y="40.0" transform="rotate(-19.5 429.1 38.6)">kotlah-kv-kz.kz</text>
<text x="443.3" y="56.3" transform="rotate(-19.5 443.3 54.9)">kotlah-kv-kz.kz</text>
<text x="457.5" y="72.6" transform="rotate(-19.5 457.5 71.2)">kotlah-kv-kz.kz</text>
<text x="471.7" y="88.9" transform="rotate(-19.5 471.7 87.5)">kotlah-kv-kz.kz</text>
<text x="485.9" y="105.2" transform="rotate(-19.5 485.9 103.8)">kotlah-kv-kz.kz</text>
<text x="500.1" y="121.5" transform="rotate(-19.5 500.1 120.1)">kotlah-kv-kz.kz</text>
<text x="514.3" y="137.8" transform="rotate(-19.5 514.3 136.4)">kotlah-kv-kz.kz</text>
<text x="528.5" y="154.1" transform="rotate(-19.5 528.5 152.7)">kotlah-kv-kz.kz</text>
<text x="542.7" y="170.4" transform="rotate(-19.5 542.7 169.0)">kotlah-kv-kz.kz</text>
<text x="556.9" y="186.7" transform="rotate(-19.5 556.9 185.3)">kotlah-kv-kz.kz</text>
<text x="571.1" y="203.0" transform="rotate(-19.5 571.1 201.6)">kotlah-kv-kz.kz</text>
<text x="585.3" y="219.3" transform="rotate(-19.5 585.3 217.9)">kotlah-kv-kz.kz</text>
<text x="599.5" y="235.6" transform="rotate(-19.5 599.5 234.2)">kotlah-kv-kz.kz</text>
<text x="613.7" y="251.9" transform="rotate(-19.5 613.7 250.5)">kotlah-kv-kz.kz</text>
<text x="627.9" y="268.2" transform="rotate(-19.5 627.9 266.8)">kotlah-kv-kz.kz</text>
<text x="642.1" y="284.5" transform="rotate(-19.5 642.1 283.1)">kotlah-kv-kz.kz</text>
<text x="656.3" y="300.8" transform="rotate(-19.5 656.3 299.4)">kotlah-kv-kz.kz</text>
<text x="442.2" y="2.6" transform="rotate(-19.5 442.2 1.2)">kotlah-kv-kz.kz</text>
<text x="456.4" y="18.9" transform="rotate(-19.5 456.4 17.5)">kotlah-kv-kz.kz</text>
<text x="470.6" y="35.2" transform="rotate(-19.5 470.6 33.8)">kotlah-kv-kz.kz</text>
<text x="484.8" y="51.5" transform="rotate(-19.5 484.8 50.1)">kotlah-kv-kz.kz</text>
<text x="499.0" y="67.8" transform="rotate(-19.5 499.0 66.4)">kotlah-kv-kz.kz</text>
<text x="513.2" y="84.1" transform="rotate(-19.5 513.2 82.7)">kotlah-kv-kz.kz</text>
<text x="527.4" y="100.4" transform="rotate(-19.5 527.4 99.0)">kotlah-kv-kz.kz</text>
<text x="541.6" y="116.7" transform="rotate(-19.5 541.6 115.3)">kotlah-kv-kz.kz</text>
<text x="555.8" y="133.0" transform="rotate(-19.5 555.8 131.6)">kotlah-kv-kz.kz</text>
<text x="570.0" y="149.3" transform="rotate(-19.5 570.0 147.9)">kotlah-kv-kz.kz</text>
<text x="584.2" y="165.6" transform="rotate(-19.5 584.2 164.2)">kotlah-kv-kz.kz</text>
<text x="598.4" y="181.9" transform="rotate(-19.5 598.4 180.5)">kotlah-kv-kz.kz</text>
<text x="612.6" y="198.2" transform="rotate(-19.5 612.6 196.8)">kotlah-kv-kz.kz</text>
<text x="626.8" y="214.5" transform="rotate(-19.5 626.8 213.1)">kotlah-kv-kz.kz</text>
<text x="641.0" y="230.8" transform="rotate(-19.5 641.0 229.4)">kotlah-kv-kz.kz</text>
<text x="655.2" y="247.1" transform="rotate(-19.5 655.2 245.7)">kotlah-kv-kz.kz</text>
<text x="483.7" y="-2.2" transform="rotate(-19.5 483.7 -3.6)">kotlah-kv-kz.kz</text>
<text x="497.9" y="14.1" transform="rotate(-19.5 497.9 12.7)">kotlah-kv-kz.kz</text>
<text x="512.1" y="30.4" transform="rotate(-19.5 512.1 29.0)">kotlah-kv-kz.kz</text>
<text x="526.3" y="46.7" transform="rotate(-19.5 526.3 45.3)">kotlah-kv-kz.kz</text>
<text x="540.5" y="63.0" transform="rotate(-19.5 540.5 61.6)">kotlah-kv-kz.kz</text>
<text x="554.7" y="79.3" transform="rotate(-19.5 554.7 77.9)">kotlah-kv-kz.kz</text>
<text x="568.9" y="95.6" transform="rotate(-19.5 568.9 94.2)">kotlah-kv-kz.kz</text>
<text x="583.1" y="111.9" transform="rotate(-19.5 583.1 110.5)">kotlah-kv-kz.kz</text>
<text x="597.3" y="128.2" transform="rotate(-19.5 597.3 126.8)">kotlah-kv-kz.kz</text>
<text x="611.5" y="144.5" transform="rotate(-19.5 611.5 143.1)">kotlah-kv-kz.kz</text>
<text x="625.7" y="160.8" transform="rotate(-19.5 625.7 159.4)">kotlah-kv-kz.kz</text>
<text x="639.9" y="177.1" transform="rotate(-19.5 639.9 175.7)">kotlah-kv-kz.kz</text>
<text x="654.1" y="193.4" transform="rotate(-19.5 654.1 192.0)">kotlah-kv-kz.kz</text>
<text x="539.4" y="9.3" transform="rotate(-19.5 539.4 7.9)">kotlah-kv-kz.kz</text>
<text x="553.6" y="25.6" transform="rotate(-19.5 553.6 24.2)">kotlah-kv-kz.kz</text>
<text x="567.8" y="41.9" transform="rotate(-19.5 567.8 40.5)">kotlah-kv-kz.kz</text>
<text x="582.0" y="58.2" transform="rotate(-19.5 582.0 56.8)">kotlah-kv-kz.kz</text>
<text x="596.2" y="74.5" transform="rotate(-19.5 596.2 73.1)">kotlah-kv-kz.kz</text>
<text x="610.4" y="90.8" transform="rotate(-19.5 610.4 89.4)">kotlah-kv-kz.kz</text>
<text x="624.6" y="107.1" transform="rotate(-19.5 624.6 105.7)">kotlah-kv-kz.kz</text>
<text x="638.8" y="123.4" transform="rotate(-19.5 638.8 122.0)">kotlah-kv-kz.kz</text>
<text x="653.0" y="139.7" transform="rotate(-19.5 653.0 138.3)">kotlah-kv-kz.kz</text>
<text x="580.9" y="4.5" transform="rotate(-19.5 580.9 3.1)">kotlah-kv-kz.kz</text>
<text x="595.1" y="20.8" transform="rotate(-19.5 595.1 19.4)">kotlah-kv-kz.kz</text>
<text x="609.3" y="37.1" transform="rotate(-19.5 609.3 35.7)">kotlah-kv-kz.kz</text>
<text x="623.5" y="53.4" transform="rotate(-19.5 623.5 52.0)">kotlah-kv-kz.kz</text>
<text x="637.7" y="69.7" transform="rotate(-19.5 637.7 68.3)">kotlah-kv-kz.kz</text>
<text x="651.9" y="86.0" transform="rotate(-19.5 651.9 84.6)">kotlah-kv-kz.kz</text>
<text x="622.4" y="-0.3" transform="rotate(-19.5 622.4 -1.7)">kotlah-kv-kz.kz</text>
<text x="636.6" y="16.0" transform="rotate(-19.5 636.6 14.6)">kotlah-kv-kz.kz</text>
<text x="650.8" y="32.3" transform="rotate(-19.5 650.8 30.9)">kotlah-kv-kz.kz</text></g>
</g>
</svg>
</body></html>
